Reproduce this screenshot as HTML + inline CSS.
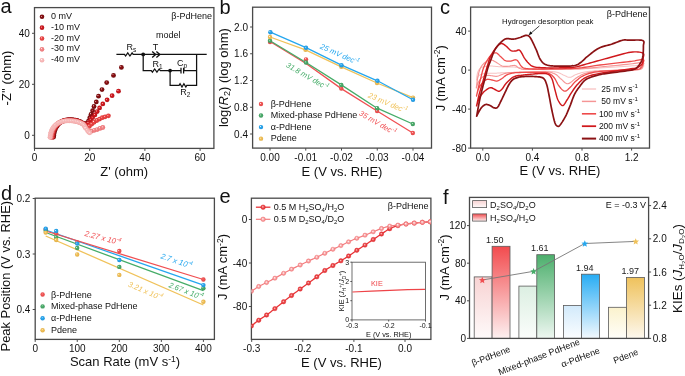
<!DOCTYPE html>
<html><head><meta charset="utf-8"><style>
html,body{margin:0;padding:0;background:#fff;}
svg{display:block;will-change:transform;}
</style></head><body>
<svg width="685" height="376" viewBox="0 0 685 376" font-family="&quot;Liberation Sans&quot;, sans-serif">
<defs><radialGradient id="ga0" cx="0.5" cy="0.5" r="0.55" fx="0.36" fy="0.34"><stop offset="0" stop-color="#fff" stop-opacity="0.9"/><stop offset="0.28" stop-color="#8e0f12"/><stop offset="1" stop-color="#6a0a0c"/></radialGradient><radialGradient id="ga1" cx="0.5" cy="0.5" r="0.55" fx="0.36" fy="0.34"><stop offset="0" stop-color="#fff" stop-opacity="0.9"/><stop offset="0.28" stop-color="#d71a20"/><stop offset="1" stop-color="#b0141a"/></radialGradient><radialGradient id="ga2" cx="0.5" cy="0.5" r="0.55" fx="0.36" fy="0.34"><stop offset="0" stop-color="#fff" stop-opacity="0.9"/><stop offset="0.28" stop-color="#ee4848"/><stop offset="1" stop-color="#d83535"/></radialGradient><radialGradient id="ga3" cx="0.5" cy="0.5" r="0.55" fx="0.36" fy="0.34"><stop offset="0" stop-color="#fff" stop-opacity="0.9"/><stop offset="0.28" stop-color="#f48a8c"/><stop offset="1" stop-color="#e87072"/></radialGradient><radialGradient id="ga4" cx="0.5" cy="0.5" r="0.55" fx="0.36" fy="0.34"><stop offset="0" stop-color="#fff" stop-opacity="0.9"/><stop offset="0.28" stop-color="#f9c2c2"/><stop offset="1" stop-color="#f2a8a8"/></radialGradient><radialGradient id="gr" cx="0.5" cy="0.5" r="0.55" fx="0.36" fy="0.34"><stop offset="0" stop-color="#fff" stop-opacity="0.9"/><stop offset="0.28" stop-color="#f25a5a"/><stop offset="1" stop-color="#e04444"/></radialGradient><radialGradient id="gg" cx="0.5" cy="0.5" r="0.55" fx="0.36" fy="0.34"><stop offset="0" stop-color="#fff" stop-opacity="0.9"/><stop offset="0.28" stop-color="#4fb06f"/><stop offset="1" stop-color="#3c965a"/></radialGradient><radialGradient id="gb" cx="0.5" cy="0.5" r="0.55" fx="0.36" fy="0.34"><stop offset="0" stop-color="#fff" stop-opacity="0.9"/><stop offset="0.28" stop-color="#2eaaf0"/><stop offset="1" stop-color="#1c90d8"/></radialGradient><radialGradient id="gy" cx="0.5" cy="0.5" r="0.55" fx="0.36" fy="0.34"><stop offset="0" stop-color="#fff" stop-opacity="0.9"/><stop offset="0.28" stop-color="#f2c35c"/><stop offset="1" stop-color="#e0ad45"/></radialGradient><linearGradient id="bRh" x1="0" y1="0" x2="0" y2="1"><stop offset="0" stop-color="#f24b4e"/><stop offset="1" stop-color="#fdf0f0"/></linearGradient><linearGradient id="bRd" x1="0" y1="0" x2="0" y2="1"><stop offset="0" stop-color="#f8d3d3"/><stop offset="1" stop-color="#fefafa"/></linearGradient><linearGradient id="bGh" x1="0" y1="0" x2="0" y2="1"><stop offset="0" stop-color="#4caf6c"/><stop offset="1" stop-color="#eef7f1"/></linearGradient><linearGradient id="bGd" x1="0" y1="0" x2="0" y2="1"><stop offset="0" stop-color="#dcefe2"/><stop offset="1" stop-color="#fbfdfb"/></linearGradient><linearGradient id="bBh" x1="0" y1="0" x2="0" y2="1"><stop offset="0" stop-color="#27acf4"/><stop offset="1" stop-color="#f3f9fe"/></linearGradient><linearGradient id="bBd" x1="0" y1="0" x2="0" y2="1"><stop offset="0" stop-color="#d2eafb"/><stop offset="1" stop-color="#fbfdff"/></linearGradient><linearGradient id="bYh" x1="0" y1="0" x2="0" y2="1"><stop offset="0" stop-color="#efc25c"/><stop offset="1" stop-color="#fdf8ee"/></linearGradient><linearGradient id="bYd" x1="0" y1="0" x2="0" y2="1"><stop offset="0" stop-color="#fbf2cd"/><stop offset="1" stop-color="#fffef9"/></linearGradient><radialGradient id="geh" cx="0.5" cy="0.5" r="0.55" fx="0.42" fy="0.4"><stop offset="0" stop-color="#fbd0d0"/><stop offset="0.45" stop-color="#ea4a4c"/><stop offset="1" stop-color="#d82a2d"/></radialGradient><radialGradient id="ged" cx="0.5" cy="0.5" r="0.55" fx="0.42" fy="0.4"><stop offset="0" stop-color="#fff"/><stop offset="0.45" stop-color="#f8a8a9"/><stop offset="1" stop-color="#f07a7c"/></radialGradient></defs>
<rect width="685" height="376" fill="#fff"/>
<text x="0.5" y="13.3" font-size="20" text-anchor="start" fill="#111" >a</text>
<rect x="34.5" y="7.6" width="179.40" height="140.80" fill="none" stroke="#4a4a4a" stroke-width="1.3"/>
<line x1="34.50" y1="148.4" x2="34.50" y2="150.9" stroke="#4a4a4a" stroke-width="1"/>
<text x="34.50" y="160.8" font-size="10" text-anchor="middle" fill="#111">0</text>
<line x1="89.70" y1="148.4" x2="89.70" y2="150.9" stroke="#4a4a4a" stroke-width="1"/>
<text x="89.70" y="160.8" font-size="10" text-anchor="middle" fill="#111">20</text>
<line x1="144.90" y1="148.4" x2="144.90" y2="150.9" stroke="#4a4a4a" stroke-width="1"/>
<text x="144.90" y="160.8" font-size="10" text-anchor="middle" fill="#111">40</text>
<line x1="200.10" y1="148.4" x2="200.10" y2="150.9" stroke="#4a4a4a" stroke-width="1"/>
<text x="200.10" y="160.8" font-size="10" text-anchor="middle" fill="#111">60</text>
<line x1="32.0" y1="135.30" x2="34.5" y2="135.30" stroke="#4a4a4a" stroke-width="1"/>
<text x="29.9" y="138.90" font-size="10" text-anchor="end" fill="#111">0</text>
<line x1="32.0" y1="84.30" x2="34.5" y2="84.30" stroke="#4a4a4a" stroke-width="1"/>
<text x="29.9" y="87.90" font-size="10" text-anchor="end" fill="#111">20</text>
<line x1="32.0" y1="33.30" x2="34.5" y2="33.30" stroke="#4a4a4a" stroke-width="1"/>
<text x="29.9" y="36.90" font-size="10" text-anchor="end" fill="#111">40</text>
<text transform="translate(11,78) rotate(-90)" font-size="13" text-anchor="middle" fill="#111">-Z'' (ohm)</text>
<text x="124.2" y="176.3" font-size="13" text-anchor="middle" fill="#111">Z' (ohm)</text>
<circle cx="42.00" cy="16.80" r="2.3" fill="url(#ga0)"/>
<text x="51" y="18.900000000000002" font-size="9" text-anchor="start" fill="#111" >0 mV</text>
<circle cx="42.00" cy="27.65" r="2.3" fill="url(#ga1)"/>
<text x="51" y="29.75" font-size="9" text-anchor="start" fill="#111" >-10 mV</text>
<circle cx="42.00" cy="38.50" r="2.3" fill="url(#ga2)"/>
<text x="51" y="40.6" font-size="9" text-anchor="start" fill="#111" >-20 mV</text>
<circle cx="42.00" cy="49.35" r="2.3" fill="url(#ga3)"/>
<text x="51" y="51.449999999999996" font-size="9" text-anchor="start" fill="#111" >-30 mV</text>
<circle cx="42.00" cy="60.20" r="2.3" fill="url(#ga4)"/>
<text x="51" y="62.300000000000004" font-size="9" text-anchor="start" fill="#111" >-40 mV</text>
<text x="212" y="18.7" font-size="9" text-anchor="end" fill="#111" >β-PdHene</text>
<g stroke="#111" stroke-width="1.25" fill="none">
<path d="M116.4,54.4 L124.5,54.4 L124.50,54.40 L125.59,56.00 L127.76,52.80 L129.94,56.00 L132.11,52.80 L133.20,54.40 L152,54.4"/>
<path d="M152.2,51.4 L155.6,54.4 L152.2,57.4 M156.4,51.4 L159.8,54.4 L156.4,57.4" stroke-width="1.4"/>
<path d="M152,54.4 L206.7,54.4"/>
<path d="M143.2,54.4 L143.2,70.6 L151.3,70.6 L151.30,70.60 L152.43,72.20 L154.68,69.00 L156.93,72.20 L159.18,69.00 L160.30,70.60 L181,70.6 M183.6,70.6 L196.6,70.6"/>
<path d="M181,67.8 L181,73.4 M183.6,67.8 L183.6,73.4"/>
<path d="M196.6,54.4 L196.6,85.4 L186.8,85.4 L186.80,85.40 L185.84,87.00 L183.91,83.80 L181.99,87.00 L180.06,83.80 L179.10,85.40 L170.1,85.4 L170.1,70.6"/>
</g>
<circle cx="143.2" cy="54.4" r="1.9" fill="#111"/>
<circle cx="170.1" cy="70.6" r="1.9" fill="#111"/>
<text x="168.2" y="38.3" font-size="9" text-anchor="middle" fill="#111" >model</text>
<text x="126.5" y="50" font-size="9" text-anchor="start" fill="#111" >R<tspan font-size="6.5" dy="1.8">s</tspan></text>
<text x="155.5" y="50" font-size="9" text-anchor="middle" fill="#111" >T</text>
<text x="152.5" y="67" font-size="9" text-anchor="start" fill="#111" >R<tspan font-size="6.5" dy="1.8">1</tspan></text>
<text x="177" y="66.3" font-size="9" text-anchor="start" fill="#111" >C<tspan font-size="6.5" dy="1.8">p</tspan></text>
<text x="180.2" y="95.4" font-size="9" text-anchor="start" fill="#111" >R<tspan font-size="6.5" dy="1.8">2</tspan></text>
<circle cx="53.60" cy="137.08" r="2.4" fill="url(#ga0)"/>
<circle cx="53.77" cy="135.39" r="2.4" fill="url(#ga0)"/>
<circle cx="53.98" cy="133.70" r="2.4" fill="url(#ga0)"/>
<circle cx="54.32" cy="132.04" r="2.4" fill="url(#ga0)"/>
<circle cx="54.80" cy="130.41" r="2.4" fill="url(#ga0)"/>
<circle cx="55.44" cy="128.83" r="2.4" fill="url(#ga0)"/>
<circle cx="56.25" cy="127.34" r="2.4" fill="url(#ga0)"/>
<circle cx="57.16" cy="125.90" r="2.4" fill="url(#ga0)"/>
<circle cx="58.17" cy="124.54" r="2.4" fill="url(#ga0)"/>
<circle cx="59.35" cy="123.32" r="2.4" fill="url(#ga0)"/>
<circle cx="60.68" cy="122.26" r="2.4" fill="url(#ga0)"/>
<circle cx="62.14" cy="121.38" r="2.4" fill="url(#ga0)"/>
<circle cx="63.69" cy="120.69" r="2.4" fill="url(#ga0)"/>
<circle cx="65.31" cy="120.18" r="2.4" fill="url(#ga0)"/>
<circle cx="66.97" cy="119.83" r="2.4" fill="url(#ga0)"/>
<circle cx="68.66" cy="119.65" r="2.4" fill="url(#ga0)"/>
<circle cx="70.36" cy="119.60" r="2.4" fill="url(#ga0)"/>
<circle cx="72.06" cy="119.65" r="2.4" fill="url(#ga0)"/>
<circle cx="73.75" cy="119.81" r="2.4" fill="url(#ga0)"/>
<circle cx="75.43" cy="120.08" r="2.4" fill="url(#ga0)"/>
<circle cx="77.08" cy="120.49" r="2.4" fill="url(#ga0)"/>
<circle cx="78.69" cy="121.04" r="2.4" fill="url(#ga0)"/>
<circle cx="80.24" cy="121.73" r="2.4" fill="url(#ga0)"/>
<circle cx="81.74" cy="122.53" r="2.4" fill="url(#ga0)"/>
<circle cx="83.20" cy="123.40" r="2.4" fill="url(#ga0)"/>
<circle cx="84.80" cy="123.95" r="2.4" fill="url(#ga0)"/>
<circle cx="87.20" cy="122.80" r="2.4" fill="url(#ga0)"/>
<circle cx="88.60" cy="121.00" r="2.4" fill="url(#ga0)"/>
<circle cx="89.80" cy="117.70" r="2.4" fill="url(#ga0)"/>
<circle cx="91.00" cy="114.40" r="2.4" fill="url(#ga0)"/>
<circle cx="92.60" cy="110.70" r="2.4" fill="url(#ga0)"/>
<circle cx="94.00" cy="106.50" r="2.4" fill="url(#ga0)"/>
<circle cx="96.30" cy="101.90" r="2.4" fill="url(#ga0)"/>
<circle cx="98.50" cy="96.20" r="2.4" fill="url(#ga0)"/>
<circle cx="102.00" cy="89.60" r="2.4" fill="url(#ga0)"/>
<circle cx="106.70" cy="82.60" r="2.4" fill="url(#ga0)"/>
<circle cx="113.50" cy="75.40" r="2.4" fill="url(#ga0)"/>
<circle cx="121.40" cy="67.40" r="2.4" fill="url(#ga0)"/>
<circle cx="52.70" cy="137.14" r="2.4" fill="url(#ga1)"/>
<circle cx="52.89" cy="135.45" r="2.4" fill="url(#ga1)"/>
<circle cx="53.11" cy="133.77" r="2.4" fill="url(#ga1)"/>
<circle cx="53.48" cy="132.11" r="2.4" fill="url(#ga1)"/>
<circle cx="53.98" cy="130.48" r="2.4" fill="url(#ga1)"/>
<circle cx="54.64" cy="128.92" r="2.4" fill="url(#ga1)"/>
<circle cx="55.47" cy="127.43" r="2.4" fill="url(#ga1)"/>
<circle cx="56.40" cy="126.01" r="2.4" fill="url(#ga1)"/>
<circle cx="57.46" cy="124.69" r="2.4" fill="url(#ga1)"/>
<circle cx="58.68" cy="123.50" r="2.4" fill="url(#ga1)"/>
<circle cx="60.04" cy="122.49" r="2.4" fill="url(#ga1)"/>
<circle cx="61.52" cy="121.65" r="2.4" fill="url(#ga1)"/>
<circle cx="63.09" cy="120.98" r="2.4" fill="url(#ga1)"/>
<circle cx="64.71" cy="120.49" r="2.4" fill="url(#ga1)"/>
<circle cx="66.38" cy="120.15" r="2.4" fill="url(#ga1)"/>
<circle cx="68.06" cy="119.96" r="2.4" fill="url(#ga1)"/>
<circle cx="69.76" cy="119.90" r="2.4" fill="url(#ga1)"/>
<circle cx="71.46" cy="119.94" r="2.4" fill="url(#ga1)"/>
<circle cx="73.16" cy="120.07" r="2.4" fill="url(#ga1)"/>
<circle cx="74.84" cy="120.30" r="2.4" fill="url(#ga1)"/>
<circle cx="76.50" cy="120.66" r="2.4" fill="url(#ga1)"/>
<circle cx="78.13" cy="121.15" r="2.4" fill="url(#ga1)"/>
<circle cx="79.71" cy="121.78" r="2.4" fill="url(#ga1)"/>
<circle cx="81.23" cy="122.53" r="2.4" fill="url(#ga1)"/>
<circle cx="82.69" cy="123.41" r="2.4" fill="url(#ga1)"/>
<circle cx="84.22" cy="124.15" r="2.4" fill="url(#ga1)"/>
<circle cx="85.81" cy="124.73" r="2.4" fill="url(#ga1)"/>
<circle cx="88.50" cy="123.20" r="2.4" fill="url(#ga1)"/>
<circle cx="90.70" cy="120.00" r="2.4" fill="url(#ga1)"/>
<circle cx="92.60" cy="117.70" r="2.4" fill="url(#ga1)"/>
<circle cx="94.90" cy="114.90" r="2.4" fill="url(#ga1)"/>
<circle cx="97.20" cy="111.60" r="2.4" fill="url(#ga1)"/>
<circle cx="99.60" cy="107.90" r="2.4" fill="url(#ga1)"/>
<circle cx="102.80" cy="103.90" r="2.4" fill="url(#ga1)"/>
<circle cx="107.10" cy="99.80" r="2.4" fill="url(#ga1)"/>
<circle cx="112.10" cy="95.70" r="2.4" fill="url(#ga1)"/>
<circle cx="118.50" cy="91.20" r="2.4" fill="url(#ga1)"/>
<circle cx="51.80" cy="137.20" r="2.4" fill="url(#ga2)"/>
<circle cx="52.00" cy="135.51" r="2.4" fill="url(#ga2)"/>
<circle cx="52.25" cy="133.83" r="2.4" fill="url(#ga2)"/>
<circle cx="52.64" cy="132.18" r="2.4" fill="url(#ga2)"/>
<circle cx="53.16" cy="130.56" r="2.4" fill="url(#ga2)"/>
<circle cx="53.85" cy="129.00" r="2.4" fill="url(#ga2)"/>
<circle cx="54.69" cy="127.53" r="2.4" fill="url(#ga2)"/>
<circle cx="55.66" cy="126.13" r="2.4" fill="url(#ga2)"/>
<circle cx="56.76" cy="124.84" r="2.4" fill="url(#ga2)"/>
<circle cx="58.02" cy="123.70" r="2.4" fill="url(#ga2)"/>
<circle cx="59.41" cy="122.72" r="2.4" fill="url(#ga2)"/>
<circle cx="60.90" cy="121.91" r="2.4" fill="url(#ga2)"/>
<circle cx="62.48" cy="121.28" r="2.4" fill="url(#ga2)"/>
<circle cx="64.11" cy="120.80" r="2.4" fill="url(#ga2)"/>
<circle cx="65.78" cy="120.46" r="2.4" fill="url(#ga2)"/>
<circle cx="67.46" cy="120.27" r="2.4" fill="url(#ga2)"/>
<circle cx="69.16" cy="120.20" r="2.4" fill="url(#ga2)"/>
<circle cx="70.86" cy="120.22" r="2.4" fill="url(#ga2)"/>
<circle cx="72.56" cy="120.33" r="2.4" fill="url(#ga2)"/>
<circle cx="74.25" cy="120.54" r="2.4" fill="url(#ga2)"/>
<circle cx="75.92" cy="120.85" r="2.4" fill="url(#ga2)"/>
<circle cx="77.56" cy="121.29" r="2.4" fill="url(#ga2)"/>
<circle cx="79.16" cy="121.86" r="2.4" fill="url(#ga2)"/>
<circle cx="80.71" cy="122.56" r="2.4" fill="url(#ga2)"/>
<circle cx="82.22" cy="123.34" r="2.4" fill="url(#ga2)"/>
<circle cx="83.64" cy="124.27" r="2.4" fill="url(#ga2)"/>
<circle cx="84.94" cy="125.36" r="2.4" fill="url(#ga2)"/>
<circle cx="89.50" cy="126.00" r="2.4" fill="url(#ga2)"/>
<circle cx="91.60" cy="124.20" r="2.4" fill="url(#ga2)"/>
<circle cx="94.00" cy="122.30" r="2.4" fill="url(#ga2)"/>
<circle cx="96.80" cy="120.50" r="2.4" fill="url(#ga2)"/>
<circle cx="99.60" cy="119.10" r="2.4" fill="url(#ga2)"/>
<circle cx="102.30" cy="117.70" r="2.4" fill="url(#ga2)"/>
<circle cx="105.10" cy="116.80" r="2.4" fill="url(#ga2)"/>
<circle cx="108.40" cy="115.80" r="2.4" fill="url(#ga2)"/>
<circle cx="50.90" cy="137.26" r="2.4" fill="url(#ga3)"/>
<circle cx="51.12" cy="135.57" r="2.4" fill="url(#ga3)"/>
<circle cx="51.40" cy="133.90" r="2.4" fill="url(#ga3)"/>
<circle cx="51.81" cy="132.25" r="2.4" fill="url(#ga3)"/>
<circle cx="52.35" cy="130.64" r="2.4" fill="url(#ga3)"/>
<circle cx="53.05" cy="129.09" r="2.4" fill="url(#ga3)"/>
<circle cx="53.92" cy="127.63" r="2.4" fill="url(#ga3)"/>
<circle cx="54.92" cy="126.26" r="2.4" fill="url(#ga3)"/>
<circle cx="56.07" cy="125.00" r="2.4" fill="url(#ga3)"/>
<circle cx="57.36" cy="123.90" r="2.4" fill="url(#ga3)"/>
<circle cx="58.77" cy="122.96" r="2.4" fill="url(#ga3)"/>
<circle cx="60.28" cy="122.18" r="2.4" fill="url(#ga3)"/>
<circle cx="61.87" cy="121.57" r="2.4" fill="url(#ga3)"/>
<circle cx="63.50" cy="121.10" r="2.4" fill="url(#ga3)"/>
<circle cx="65.17" cy="120.78" r="2.4" fill="url(#ga3)"/>
<circle cx="66.86" cy="120.58" r="2.4" fill="url(#ga3)"/>
<circle cx="68.56" cy="120.50" r="2.4" fill="url(#ga3)"/>
<circle cx="70.26" cy="120.51" r="2.4" fill="url(#ga3)"/>
<circle cx="71.95" cy="120.60" r="2.4" fill="url(#ga3)"/>
<circle cx="73.65" cy="120.78" r="2.4" fill="url(#ga3)"/>
<circle cx="75.32" cy="121.06" r="2.4" fill="url(#ga3)"/>
<circle cx="76.98" cy="121.45" r="2.4" fill="url(#ga3)"/>
<circle cx="78.60" cy="121.96" r="2.4" fill="url(#ga3)"/>
<circle cx="80.17" cy="122.61" r="2.4" fill="url(#ga3)"/>
<circle cx="81.71" cy="123.32" r="2.4" fill="url(#ga3)"/>
<circle cx="83.16" cy="124.20" r="2.4" fill="url(#ga3)"/>
<circle cx="84.31" cy="125.44" r="2.4" fill="url(#ga3)"/>
<circle cx="85.31" cy="126.82" r="2.4" fill="url(#ga3)"/>
<circle cx="88.00" cy="129.60" r="2.4" fill="url(#ga3)"/>
<circle cx="89.30" cy="130.70" r="2.4" fill="url(#ga3)"/>
<circle cx="91.60" cy="131.20" r="2.4" fill="url(#ga3)"/>
<circle cx="94.40" cy="130.30" r="2.4" fill="url(#ga3)"/>
<circle cx="97.20" cy="129.60" r="2.4" fill="url(#ga3)"/>
<circle cx="100.00" cy="128.40" r="2.4" fill="url(#ga3)"/>
<circle cx="102.80" cy="127.50" r="2.4" fill="url(#ga3)"/>
<circle cx="50.00" cy="137.32" r="2.4" fill="url(#ga4)"/>
<circle cx="50.24" cy="135.64" r="2.4" fill="url(#ga4)"/>
<circle cx="50.55" cy="133.97" r="2.4" fill="url(#ga4)"/>
<circle cx="50.98" cy="132.32" r="2.4" fill="url(#ga4)"/>
<circle cx="51.53" cy="130.72" r="2.4" fill="url(#ga4)"/>
<circle cx="52.26" cy="129.18" r="2.4" fill="url(#ga4)"/>
<circle cx="53.15" cy="127.73" r="2.4" fill="url(#ga4)"/>
<circle cx="54.19" cy="126.39" r="2.4" fill="url(#ga4)"/>
<circle cx="55.38" cy="125.17" r="2.4" fill="url(#ga4)"/>
<circle cx="56.70" cy="124.10" r="2.4" fill="url(#ga4)"/>
<circle cx="58.14" cy="123.20" r="2.4" fill="url(#ga4)"/>
<circle cx="59.66" cy="122.45" r="2.4" fill="url(#ga4)"/>
<circle cx="61.26" cy="121.86" r="2.4" fill="url(#ga4)"/>
<circle cx="62.90" cy="121.41" r="2.4" fill="url(#ga4)"/>
<circle cx="64.56" cy="121.09" r="2.4" fill="url(#ga4)"/>
<circle cx="66.25" cy="120.89" r="2.4" fill="url(#ga4)"/>
<circle cx="67.95" cy="120.81" r="2.4" fill="url(#ga4)"/>
<circle cx="69.65" cy="120.81" r="2.4" fill="url(#ga4)"/>
<circle cx="71.35" cy="120.88" r="2.4" fill="url(#ga4)"/>
<circle cx="73.04" cy="121.03" r="2.4" fill="url(#ga4)"/>
<circle cx="74.72" cy="121.28" r="2.4" fill="url(#ga4)"/>
<circle cx="76.39" cy="121.62" r="2.4" fill="url(#ga4)"/>
<circle cx="78.02" cy="122.08" r="2.4" fill="url(#ga4)"/>
<circle cx="79.62" cy="122.68" r="2.4" fill="url(#ga4)"/>
<circle cx="81.17" cy="123.37" r="2.4" fill="url(#ga4)"/>
<circle cx="82.70" cy="124.11" r="2.4" fill="url(#ga4)"/>
<circle cx="83.88" cy="125.31" r="2.4" fill="url(#ga4)"/>
<circle cx="84.76" cy="126.77" r="2.4" fill="url(#ga4)"/>
<circle cx="85.57" cy="128.26" r="2.4" fill="url(#ga4)"/>
<circle cx="87.40" cy="130.50" r="2.4" fill="url(#ga4)"/>
<circle cx="88.60" cy="132.00" r="2.4" fill="url(#ga4)"/>
<circle cx="89.70" cy="132.80" r="2.4" fill="url(#ga4)"/>
<text x="219.5" y="13.8" font-size="20" text-anchor="start" fill="#111" >b</text>
<rect x="252.6" y="7.2" width="178.90" height="140.90" fill="none" stroke="#4a4a4a" stroke-width="1.3"/>
<line x1="270.00" y1="148.1" x2="270.00" y2="150.6" stroke="#4a4a4a" stroke-width="1"/>
<text x="270.00" y="160.8" font-size="10" text-anchor="middle" fill="#111">0.00</text>
<line x1="305.75" y1="148.1" x2="305.75" y2="150.6" stroke="#4a4a4a" stroke-width="1"/>
<text x="305.75" y="160.8" font-size="10" text-anchor="middle" fill="#111">-0.01</text>
<line x1="341.50" y1="148.1" x2="341.50" y2="150.6" stroke="#4a4a4a" stroke-width="1"/>
<text x="341.50" y="160.8" font-size="10" text-anchor="middle" fill="#111">-0.02</text>
<line x1="377.25" y1="148.1" x2="377.25" y2="150.6" stroke="#4a4a4a" stroke-width="1"/>
<text x="377.25" y="160.8" font-size="10" text-anchor="middle" fill="#111">-0.03</text>
<line x1="413.00" y1="148.1" x2="413.00" y2="150.6" stroke="#4a4a4a" stroke-width="1"/>
<text x="413.00" y="160.8" font-size="10" text-anchor="middle" fill="#111">-0.04</text>
<line x1="250.1" y1="27.00" x2="252.6" y2="27.00" stroke="#4a4a4a" stroke-width="1"/>
<text x="248" y="30.60" font-size="10" text-anchor="end" fill="#111">2.0</text>
<line x1="250.1" y1="53.75" x2="252.6" y2="53.75" stroke="#4a4a4a" stroke-width="1"/>
<text x="248" y="57.35" font-size="10" text-anchor="end" fill="#111">1.6</text>
<line x1="250.1" y1="80.50" x2="252.6" y2="80.50" stroke="#4a4a4a" stroke-width="1"/>
<text x="248" y="84.10" font-size="10" text-anchor="end" fill="#111">1.2</text>
<line x1="250.1" y1="107.25" x2="252.6" y2="107.25" stroke="#4a4a4a" stroke-width="1"/>
<text x="248" y="110.85" font-size="10" text-anchor="end" fill="#111">0.8</text>
<line x1="250.1" y1="134.00" x2="252.6" y2="134.00" stroke="#4a4a4a" stroke-width="1"/>
<text x="248" y="137.60" font-size="10" text-anchor="end" fill="#111">0.4</text>
<text transform="translate(227.7,77.6) rotate(-90)" font-size="13" text-anchor="middle" fill="#111">log(<tspan font-style="italic">R</tspan><tspan font-size="9" dy="2.5">2</tspan><tspan dy="-2.5">) (log ohm)</tspan></text>
<text x="342" y="176" font-size="13" text-anchor="middle" fill="#111">E (V vs. RHE)</text>
<path d="M270.00,41.50 L306.00,63.50 L341.30,88.60 L377.10,111.00 L412.80,133.00" fill="none" stroke="#f04f52" stroke-width="1.3" stroke-linejoin="round" stroke-linecap="round" />
<path d="M270.00,40.70 L306.00,62.50 L341.30,84.90 L377.10,108.20 L412.80,124.00" fill="none" stroke="#45ac68" stroke-width="1.3" stroke-linejoin="round" stroke-linecap="round" />
<path d="M270.00,37.00 L305.50,49.80 L341.30,66.80 L377.00,83.00 L413.00,97.60" fill="none" stroke="#f0c25a" stroke-width="1.3" stroke-linejoin="round" stroke-linecap="round" />
<path d="M270.40,32.20 L306.00,47.70 L341.50,65.20 L377.40,80.80 L413.00,99.80" fill="none" stroke="#25a7ef" stroke-width="1.3" stroke-linejoin="round" stroke-linecap="round" />
<circle cx="270.00" cy="42.00" r="2.2" fill="url(#gr)"/>
<circle cx="306.00" cy="59.40" r="2.2" fill="url(#gr)"/>
<circle cx="341.30" cy="88.50" r="2.2" fill="url(#gr)"/>
<circle cx="377.10" cy="111.00" r="2.2" fill="url(#gr)"/>
<circle cx="412.80" cy="133.00" r="2.2" fill="url(#gr)"/>
<circle cx="270.00" cy="40.70" r="2.2" fill="url(#gg)"/>
<circle cx="306.00" cy="62.50" r="2.2" fill="url(#gg)"/>
<circle cx="341.30" cy="84.90" r="2.2" fill="url(#gg)"/>
<circle cx="377.10" cy="108.20" r="2.2" fill="url(#gg)"/>
<circle cx="412.80" cy="124.00" r="2.2" fill="url(#gg)"/>
<circle cx="270.00" cy="37.00" r="2.2" fill="url(#gy)"/>
<circle cx="305.50" cy="49.80" r="2.2" fill="url(#gy)"/>
<circle cx="341.30" cy="66.80" r="2.2" fill="url(#gy)"/>
<circle cx="377.00" cy="83.00" r="2.2" fill="url(#gy)"/>
<circle cx="413.00" cy="97.60" r="2.2" fill="url(#gy)"/>
<circle cx="270.40" cy="32.20" r="2.2" fill="url(#gb)"/>
<circle cx="306.00" cy="47.70" r="2.2" fill="url(#gb)"/>
<circle cx="341.50" cy="65.20" r="2.2" fill="url(#gb)"/>
<circle cx="377.40" cy="80.80" r="2.2" fill="url(#gb)"/>
<circle cx="413.00" cy="99.80" r="2.2" fill="url(#gb)"/>
<circle cx="261.00" cy="104.00" r="2.2" fill="url(#gr)"/>
<text x="270.7" y="106.6" font-size="9" text-anchor="start" fill="#111" >β-PdHene</text>
<circle cx="261.00" cy="115.55" r="2.2" fill="url(#gg)"/>
<text x="270.7" y="118.14999999999999" font-size="9" text-anchor="start" fill="#111" >Mixed-phase PdHene</text>
<circle cx="261.00" cy="127.10" r="2.2" fill="url(#gb)"/>
<text x="270.7" y="129.7" font-size="9" text-anchor="start" fill="#111" >α-PdHene</text>
<circle cx="261.00" cy="138.65" r="2.2" fill="url(#gy)"/>
<text x="270.7" y="141.25" font-size="9" text-anchor="start" fill="#111" >Pdene</text>
<text transform="translate(319.6,48.2) rotate(24)" font-size="7.7" font-style="italic" fill="#25a7ef" text-anchor="start">25 mV dec<tspan font-size="5.5" dy="-3.5">-1</tspan></text>
<text transform="translate(285.6,66.6) rotate(30)" font-size="7.6" font-style="italic" fill="#45ac68" text-anchor="start">31.8 mV dec<tspan font-size="5.5" dy="-3.5">-1</tspan></text>
<text transform="translate(367.5,97.2) rotate(23)" font-size="7.7" font-style="italic" fill="#f0c25a" text-anchor="start">23 mV dec<tspan font-size="5.5" dy="-3.5">-1</tspan></text>
<text transform="translate(358.6,114.8) rotate(30)" font-size="7.6" font-style="italic" fill="#f04f52" text-anchor="start">35 mV dec<tspan font-size="5.5" dy="-3.5">-1</tspan></text>
<text x="440" y="13.5" font-size="20" text-anchor="start" fill="#111" >c</text>
<rect x="470.6" y="7.1" width="178.90" height="141.00" fill="none" stroke="#4a4a4a" stroke-width="1.3"/>
<line x1="482.80" y1="148.1" x2="482.80" y2="150.6" stroke="#4a4a4a" stroke-width="1"/>
<text x="482.80" y="161" font-size="10" text-anchor="middle" fill="#111">0.0</text>
<line x1="532.40" y1="148.1" x2="532.40" y2="150.6" stroke="#4a4a4a" stroke-width="1"/>
<text x="532.40" y="161" font-size="10" text-anchor="middle" fill="#111">0.4</text>
<line x1="582.00" y1="148.1" x2="582.00" y2="150.6" stroke="#4a4a4a" stroke-width="1"/>
<text x="582.00" y="161" font-size="10" text-anchor="middle" fill="#111">0.8</text>
<line x1="631.60" y1="148.1" x2="631.60" y2="150.6" stroke="#4a4a4a" stroke-width="1"/>
<text x="631.60" y="161" font-size="10" text-anchor="middle" fill="#111">1.2</text>
<line x1="468.1" y1="31.10" x2="470.6" y2="31.10" stroke="#4a4a4a" stroke-width="1"/>
<text x="466.5" y="34.70" font-size="10" text-anchor="end" fill="#111">40</text>
<line x1="468.1" y1="70.10" x2="470.6" y2="70.10" stroke="#4a4a4a" stroke-width="1"/>
<text x="466.5" y="73.70" font-size="10" text-anchor="end" fill="#111">0</text>
<line x1="468.1" y1="109.10" x2="470.6" y2="109.10" stroke="#4a4a4a" stroke-width="1"/>
<text x="466.5" y="112.70" font-size="10" text-anchor="end" fill="#111">-40</text>
<line x1="468.1" y1="148.10" x2="470.6" y2="148.10" stroke="#4a4a4a" stroke-width="1"/>
<text x="466.5" y="151.70" font-size="10" text-anchor="end" fill="#111">-80</text>
<text transform="translate(444.6,78.3) rotate(-90)" font-size="13" text-anchor="middle" fill="#111">J (mA cm<tspan font-size="8.5" dy="-4.5">-2</tspan><tspan dy="4.5">)</tspan></text>
<text x="560" y="174.7" font-size="13" text-anchor="middle" fill="#111">E (V vs. RHE)</text>
<path d="M476.50,80.00 L476.57,79.44 L476.64,78.68 L476.74,77.78 L476.84,76.78 L476.97,75.75 L477.12,74.74 L477.30,73.80 L477.50,73.00 L477.73,72.30 L477.98,71.63 L478.26,71.01 L478.56,70.42 L478.89,69.87 L479.23,69.37 L479.61,68.91 L480.00,68.50 L480.41,68.15 L480.85,67.86 L481.30,67.62 L481.78,67.42 L482.29,67.25 L482.82,67.10 L483.39,66.95 L484.00,66.80 L484.63,66.65 L485.27,66.50 L485.93,66.36 L486.62,66.24 L487.37,66.14 L488.17,66.07 L489.04,66.02 L490.00,66.00 L491.06,66.03 L492.22,66.10 L493.46,66.21 L494.75,66.34 L496.07,66.47 L497.41,66.60 L498.72,66.72 L500.00,66.80 L501.26,66.85 L502.55,66.89 L503.84,66.91 L505.12,66.93 L506.40,66.94 L507.64,66.96 L508.85,66.97 L510.00,67.00 L511.10,67.03 L512.16,67.05 L513.19,67.07 L514.19,67.09 L515.16,67.12 L516.12,67.16 L517.06,67.22 L518.00,67.30 L518.87,67.41 L519.63,67.55 L520.35,67.71 L521.06,67.87 L521.83,68.05 L522.71,68.21 L523.75,68.37 L525.00,68.50 L526.36,68.62 L527.72,68.73 L529.16,68.84 L530.75,68.94 L532.56,69.03 L534.66,69.10 L537.11,69.16 L540.00,69.20 L543.49,69.22 L547.58,69.23 L552.10,69.23 L556.88,69.21 L561.73,69.17 L566.48,69.13 L570.97,69.07 L575.00,69.00 L578.57,68.92 L581.84,68.83 L584.89,68.73 L587.81,68.61 L590.70,68.48 L593.63,68.34 L596.70,68.18 L600.00,68.00 L603.63,67.79 L607.55,67.54 L611.64,67.27 L615.77,66.99 L619.80,66.71 L623.60,66.44 L627.04,66.20 L630.00,66.00 L632.50,65.82 L634.68,65.65 L636.57,65.49 L638.21,65.35 L639.61,65.24 L640.80,65.17 L641.82,65.16 L642.70,65.20 L643.35,65.31 L643.72,65.50 L643.87,65.73 L643.83,66.01 L643.67,66.30 L643.45,66.61 L643.21,66.92 L643.00,67.20 L642.83,67.48 L642.65,67.79 L642.42,68.11 L642.14,68.43 L641.78,68.74 L641.32,69.03 L640.73,69.29 L640.00,69.50 L639.22,69.67 L638.46,69.79 L637.64,69.89 L636.69,69.97 L635.52,70.03 L634.07,70.08 L632.25,70.14 L630.00,70.20 L627.10,70.26 L623.55,70.30 L619.56,70.33 L615.31,70.36 L611.03,70.39 L606.91,70.44 L603.17,70.50 L600.00,70.60 L597.37,70.72 L595.05,70.85 L593.01,71.00 L591.19,71.17 L589.53,71.35 L587.98,71.55 L586.49,71.77 L585.00,72.00 L583.57,72.26 L582.26,72.54 L581.05,72.84 L579.94,73.16 L578.89,73.49 L577.90,73.83 L576.94,74.17 L576.00,74.50 L575.11,74.87 L574.29,75.29 L573.53,75.74 L572.81,76.18 L572.12,76.59 L571.43,76.93 L570.73,77.18 L570.00,77.30 L569.26,77.29 L568.52,77.16 L567.79,76.95 L567.06,76.66 L566.32,76.33 L565.57,75.98 L564.80,75.63 L564.00,75.30 L563.21,74.96 L562.44,74.57 L561.67,74.16 L560.88,73.74 L560.04,73.32 L559.12,72.93 L558.12,72.59 L557.00,72.30 L555.83,72.07 L554.66,71.86 L553.44,71.69 L552.12,71.55 L550.67,71.44 L549.03,71.36 L547.16,71.32 L545.00,71.30 L542.43,71.33 L539.43,71.42 L536.14,71.55 L532.69,71.71 L529.21,71.88 L525.85,72.05 L522.74,72.19 L520.00,72.30 L517.61,72.38 L515.43,72.44 L513.42,72.49 L511.56,72.53 L509.82,72.57 L508.16,72.61 L506.57,72.65 L505.00,72.70 L503.51,72.76 L502.15,72.82 L500.89,72.89 L499.70,72.96 L498.54,73.02 L497.40,73.09 L496.23,73.15 L495.00,73.20 L493.70,73.24 L492.36,73.25 L491.00,73.25 L489.64,73.26 L488.31,73.27 L487.05,73.31 L485.87,73.38 L484.80,73.50 L483.84,73.65 L482.96,73.82 L482.16,74.02 L481.42,74.24 L480.74,74.49 L480.11,74.78 L479.54,75.12 L479.00,75.50 L478.51,75.97 L478.08,76.55 L477.71,77.20 L477.39,77.88 L477.11,78.53 L476.87,79.13 L476.67,79.64 L476.50,80.00" fill="none" stroke="#f8c4c4" stroke-width="1.05" stroke-linejoin="round" stroke-linecap="round" />
<path d="M476.30,88.00 L476.39,87.30 L476.50,86.36 L476.64,85.24 L476.79,84.00 L476.95,82.70 L477.13,81.39 L477.31,80.14 L477.50,79.00 L477.69,77.94 L477.89,76.87 L478.09,75.82 L478.31,74.78 L478.53,73.77 L478.77,72.80 L479.03,71.87 L479.30,71.00 L479.58,70.18 L479.87,69.41 L480.17,68.69 L480.48,68.00 L480.82,67.34 L481.18,66.71 L481.57,66.10 L482.00,65.50 L482.48,64.91 L483.00,64.34 L483.55,63.78 L484.13,63.26 L484.73,62.76 L485.33,62.30 L485.92,61.87 L486.50,61.50 L487.06,61.16 L487.62,60.83 L488.18,60.54 L488.74,60.29 L489.31,60.09 L489.89,59.95 L490.49,59.88 L491.10,59.90 L491.73,60.02 L492.38,60.23 L493.05,60.53 L493.73,60.88 L494.41,61.27 L495.10,61.69 L495.80,62.10 L496.50,62.50 L497.21,62.92 L497.92,63.39 L498.65,63.89 L499.38,64.39 L500.11,64.88 L500.85,65.33 L501.58,65.71 L502.30,66.00 L503.01,66.20 L503.70,66.33 L504.39,66.40 L505.08,66.42 L505.77,66.41 L506.49,66.38 L507.23,66.34 L508.00,66.30 L508.83,66.23 L509.71,66.09 L510.62,65.91 L511.54,65.73 L512.46,65.57 L513.36,65.46 L514.21,65.43 L515.00,65.50 L515.69,65.71 L516.27,66.03 L516.80,66.43 L517.31,66.89 L517.85,67.35 L518.45,67.80 L519.15,68.19 L520.00,68.50 L520.77,68.73 L521.33,68.93 L521.85,69.09 L522.50,69.22 L523.47,69.32 L524.92,69.40 L527.04,69.46 L530.00,69.50 L534.09,69.52 L539.26,69.52 L545.19,69.49 L551.56,69.44 L558.05,69.36 L564.34,69.27 L570.09,69.14 L575.00,69.00 L579.05,68.83 L582.54,68.63 L585.62,68.40 L588.44,68.16 L591.14,67.89 L593.87,67.61 L596.77,67.31 L600.00,67.00 L603.63,66.66 L607.55,66.29 L611.64,65.88 L615.77,65.47 L619.80,65.06 L623.60,64.67 L627.04,64.31 L630.00,64.00 L632.50,63.71 L634.68,63.41 L636.57,63.13 L638.21,62.88 L639.61,62.67 L640.80,62.52 L641.82,62.46 L642.70,62.50 L643.35,62.66 L643.71,62.92 L643.84,63.27 L643.80,63.69 L643.64,64.14 L643.41,64.61 L643.18,65.07 L643.00,65.50 L642.88,65.93 L642.76,66.40 L642.62,66.89 L642.42,67.38 L642.15,67.85 L641.75,68.29 L641.21,68.68 L640.50,69.00 L639.70,69.24 L638.89,69.43 L638.01,69.56 L636.97,69.66 L635.72,69.73 L634.18,69.81 L632.30,69.89 L630.00,70.00 L627.07,70.12 L623.50,70.22 L619.48,70.32 L615.22,70.42 L610.94,70.54 L606.83,70.67 L603.12,70.82 L600.00,71.00 L597.45,71.20 L595.26,71.42 L593.36,71.64 L591.69,71.89 L590.18,72.17 L588.77,72.47 L587.40,72.82 L586.00,73.20 L584.64,73.62 L583.40,74.08 L582.26,74.58 L581.19,75.10 L580.16,75.66 L579.14,76.24 L578.10,76.86 L577.00,77.50 L575.85,78.26 L574.68,79.17 L573.50,80.16 L572.32,81.16 L571.16,82.09 L570.02,82.87 L568.93,83.43 L567.90,83.70 L566.93,83.64 L566.00,83.30 L565.11,82.75 L564.26,82.05 L563.42,81.26 L562.61,80.45 L561.80,79.68 L561.00,79.00 L560.23,78.37 L559.53,77.71 L558.86,77.02 L558.19,76.34 L557.50,75.68 L556.76,75.06 L555.94,74.49 L555.00,74.00 L554.04,73.57 L553.13,73.19 L552.20,72.85 L551.19,72.56 L550.02,72.30 L548.65,72.09 L547.00,71.93 L545.00,71.80 L542.50,71.73 L539.50,71.74 L536.15,71.79 L532.62,71.88 L529.08,71.99 L525.69,72.11 L522.61,72.22 L520.00,72.30 L517.84,72.35 L515.95,72.40 L514.28,72.43 L512.81,72.47 L511.49,72.52 L510.27,72.59 L509.12,72.68 L508.00,72.80 L506.96,72.95 L506.05,73.14 L505.27,73.35 L504.56,73.57 L503.91,73.80 L503.29,74.04 L502.66,74.27 L502.00,74.50 L501.33,74.74 L500.68,75.00 L500.05,75.27 L499.44,75.54 L498.83,75.79 L498.23,76.01 L497.62,76.18 L497.00,76.30 L496.38,76.35 L495.76,76.33 L495.14,76.28 L494.53,76.19 L493.90,76.08 L493.28,75.97 L492.64,75.87 L492.00,75.80 L491.34,75.73 L490.66,75.63 L489.97,75.53 L489.27,75.44 L488.58,75.36 L487.90,75.32 L487.24,75.33 L486.60,75.40 L485.98,75.53 L485.37,75.69 L484.77,75.90 L484.18,76.14 L483.61,76.43 L483.05,76.75 L482.52,77.11 L482.00,77.50 L481.50,77.94 L481.02,78.42 L480.55,78.95 L480.10,79.51 L479.67,80.10 L479.26,80.71 L478.87,81.35 L478.50,82.00 L478.15,82.72 L477.81,83.54 L477.48,84.40 L477.18,85.28 L476.91,86.12 L476.66,86.89 L476.46,87.53 L476.30,88.00" fill="none" stroke="#f59595" stroke-width="1.15" stroke-linejoin="round" stroke-linecap="round" />
<path d="M476.50,96.00 L476.65,95.31 L476.85,94.38 L477.09,93.28 L477.36,92.06 L477.64,90.77 L477.93,89.46 L478.22,88.19 L478.50,87.00 L478.77,85.87 L479.06,84.74 L479.34,83.60 L479.64,82.47 L479.93,81.34 L480.23,80.21 L480.52,79.10 L480.80,78.00 L481.07,76.90 L481.34,75.80 L481.60,74.71 L481.86,73.62 L482.12,72.56 L482.40,71.51 L482.69,70.49 L483.00,69.50 L483.33,68.55 L483.66,67.64 L484.00,66.76 L484.35,65.90 L484.72,65.05 L485.12,64.21 L485.54,63.36 L486.00,62.50 L486.49,61.60 L487.02,60.67 L487.58,59.72 L488.16,58.79 L488.75,57.88 L489.36,57.03 L489.98,56.27 L490.60,55.60 L491.23,55.01 L491.89,54.46 L492.57,53.96 L493.25,53.54 L493.93,53.19 L494.61,52.95 L495.27,52.81 L495.90,52.80 L496.51,52.95 L497.09,53.26 L497.66,53.69 L498.22,54.21 L498.78,54.79 L499.34,55.39 L499.91,55.97 L500.50,56.50 L501.10,57.03 L501.71,57.61 L502.32,58.21 L502.94,58.81 L503.57,59.39 L504.21,59.91 L504.85,60.36 L505.50,60.70 L506.16,60.93 L506.84,61.08 L507.52,61.16 L508.21,61.18 L508.90,61.15 L509.60,61.11 L510.30,61.05 L511.00,61.00 L511.71,60.89 L512.43,60.67 L513.17,60.40 L513.90,60.13 L514.63,59.90 L515.34,59.77 L516.03,59.78 L516.70,60.00 L517.34,60.47 L517.95,61.16 L518.54,62.01 L519.12,62.95 L519.69,63.92 L520.26,64.84 L520.82,65.66 L521.40,66.30 L521.92,66.78 L522.34,67.18 L522.72,67.50 L523.12,67.76 L523.59,67.98 L524.19,68.17 L524.98,68.33 L526.00,68.50 L527.16,68.65 L528.35,68.77 L529.64,68.86 L531.10,68.93 L532.80,68.98 L534.80,69.00 L537.18,69.01 L540.00,69.00 L543.44,68.99 L547.51,68.97 L552.03,68.94 L556.81,68.89 L561.68,68.81 L566.46,68.69 L570.96,68.52 L575.00,68.30 L578.57,68.01 L581.84,67.66 L584.89,67.26 L587.81,66.82 L590.70,66.37 L593.63,65.90 L596.70,65.44 L600.00,65.00 L603.63,64.56 L607.55,64.10 L611.64,63.64 L615.77,63.17 L619.80,62.71 L623.60,62.27 L627.04,61.87 L630.00,61.50 L632.50,61.14 L634.68,60.77 L636.57,60.40 L638.20,60.06 L639.60,59.78 L640.80,59.58 L641.82,59.48 L642.70,59.50 L643.36,59.67 L643.72,59.96 L643.86,60.37 L643.83,60.84 L643.67,61.37 L643.46,61.93 L643.25,62.48 L643.10,63.00 L642.98,63.53 L642.84,64.11 L642.67,64.72 L642.45,65.34 L642.18,65.95 L641.86,66.53 L641.47,67.05 L641.00,67.50 L640.63,67.87 L640.45,68.18 L640.31,68.43 L640.06,68.66 L639.55,68.86 L638.63,69.06 L637.16,69.27 L635.00,69.50 L631.88,69.74 L627.82,69.96 L623.12,70.18 L618.06,70.41 L612.93,70.64 L608.02,70.89 L603.62,71.18 L600.00,71.50 L597.13,71.85 L594.70,72.21 L592.65,72.59 L590.88,73.00 L589.31,73.44 L587.86,73.91 L586.45,74.43 L585.00,75.00 L583.57,75.63 L582.26,76.31 L581.05,77.04 L579.94,77.81 L578.89,78.60 L577.90,79.41 L576.94,80.21 L576.00,81.00 L575.10,81.81 L574.27,82.66 L573.50,83.52 L572.77,84.39 L572.07,85.25 L571.38,86.06 L570.70,86.82 L570.00,87.50 L569.31,88.16 L568.64,88.83 L567.98,89.48 L567.33,90.08 L566.69,90.59 L566.04,90.97 L565.38,91.18 L564.70,91.20 L564.00,91.00 L563.29,90.60 L562.56,90.05 L561.83,89.36 L561.10,88.58 L560.39,87.74 L559.68,86.87 L559.00,86.00 L558.35,85.07 L557.72,84.01 L557.12,82.88 L556.52,81.71 L555.92,80.54 L555.30,79.42 L554.67,78.39 L554.00,77.50 L553.31,76.72 L552.62,76.00 L551.91,75.35 L551.19,74.76 L550.44,74.23 L549.66,73.76 L548.85,73.35 L548.00,73.00 L547.18,72.72 L546.42,72.54 L545.67,72.42 L544.88,72.36 L543.97,72.33 L542.89,72.32 L541.59,72.32 L540.00,72.30 L537.98,72.28 L535.52,72.28 L532.76,72.30 L529.88,72.33 L527.00,72.37 L524.30,72.41 L521.91,72.46 L520.00,72.50 L518.59,72.53 L517.54,72.55 L516.77,72.57 L516.19,72.59 L515.71,72.63 L515.24,72.69 L514.70,72.78 L514.00,72.90 L513.16,73.05 L512.27,73.23 L511.36,73.42 L510.44,73.64 L509.52,73.89 L508.63,74.16 L507.79,74.47 L507.00,74.80 L506.28,75.18 L505.61,75.63 L504.98,76.11 L504.38,76.61 L503.79,77.12 L503.20,77.62 L502.61,78.08 L502.00,78.50 L501.38,78.89 L500.75,79.29 L500.12,79.68 L499.50,80.04 L498.88,80.37 L498.25,80.65 L497.62,80.86 L497.00,81.00 L496.38,81.04 L495.76,80.98 L495.14,80.86 L494.53,80.69 L493.90,80.49 L493.28,80.30 L492.64,80.12 L492.00,80.00 L491.34,79.88 L490.67,79.72 L489.99,79.56 L489.31,79.41 L488.62,79.30 L487.94,79.26 L487.26,79.32 L486.60,79.50 L485.93,79.82 L485.25,80.26 L484.57,80.80 L483.90,81.41 L483.25,82.06 L482.62,82.72 L482.03,83.38 L481.50,84.00 L481.02,84.59 L480.58,85.17 L480.18,85.75 L479.81,86.34 L479.46,86.96 L479.13,87.60 L478.81,88.28 L478.50,89.00 L478.19,89.83 L477.88,90.77 L477.59,91.79 L477.31,92.81 L477.06,93.80 L476.84,94.70 L476.65,95.45 L476.50,96.00" fill="none" stroke="#ee4a4a" stroke-width="1.3" stroke-linejoin="round" stroke-linecap="round" />
<path d="M476.60,105.80 L476.78,104.97 L477.01,103.86 L477.29,102.55 L477.60,101.09 L477.94,99.54 L478.29,97.97 L478.65,96.43 L479.00,95.00 L479.36,93.63 L479.75,92.24 L480.16,90.85 L480.57,89.45 L480.99,88.06 L481.41,86.68 L481.81,85.33 L482.20,84.00 L482.57,82.70 L482.92,81.43 L483.27,80.18 L483.61,78.94 L483.95,77.71 L484.30,76.48 L484.64,75.24 L485.00,74.00 L485.37,72.73 L485.75,71.44 L486.13,70.14 L486.52,68.84 L486.90,67.57 L487.28,66.32 L487.65,65.13 L488.00,64.00 L488.33,62.93 L488.64,61.91 L488.93,60.94 L489.22,60.00 L489.51,59.09 L489.82,58.21 L490.14,57.35 L490.50,56.50 L490.89,55.67 L491.30,54.86 L491.74,54.07 L492.19,53.31 L492.64,52.57 L493.10,51.86 L493.56,51.17 L494.00,50.50 L494.43,49.85 L494.86,49.22 L495.29,48.61 L495.72,48.03 L496.15,47.48 L496.59,46.95 L497.04,46.46 L497.50,46.00 L497.97,45.56 L498.45,45.12 L498.94,44.70 L499.44,44.31 L499.94,43.98 L500.45,43.73 L500.97,43.56 L501.50,43.50 L502.04,43.56 L502.58,43.72 L503.13,43.98 L503.69,44.31 L504.25,44.69 L504.83,45.11 L505.41,45.55 L506.00,46.00 L506.60,46.50 L507.23,47.10 L507.86,47.76 L508.50,48.43 L509.14,49.09 L509.77,49.70 L510.40,50.21 L511.00,50.60 L511.59,50.86 L512.16,51.02 L512.73,51.10 L513.29,51.13 L513.85,51.11 L514.40,51.07 L514.95,51.03 L515.50,51.00 L516.04,50.91 L516.58,50.72 L517.11,50.47 L517.63,50.23 L518.16,50.05 L518.69,49.98 L519.24,50.08 L519.80,50.40 L520.38,51.00 L520.96,51.83 L521.56,52.84 L522.17,53.96 L522.78,55.13 L523.39,56.28 L524.00,57.36 L524.60,58.30 L525.20,59.14 L525.80,59.95 L526.41,60.73 L527.01,61.47 L527.61,62.17 L528.21,62.83 L528.81,63.44 L529.40,64.00 L529.94,64.50 L530.41,64.95 L530.86,65.34 L531.31,65.69 L531.82,66.01 L532.40,66.29 L533.12,66.56 L534.00,66.80 L535.04,67.02 L536.21,67.20 L537.48,67.35 L538.85,67.47 L540.30,67.58 L541.82,67.66 L543.39,67.74 L545.00,67.80 L546.68,67.85 L548.47,67.89 L550.33,67.91 L552.25,67.91 L554.20,67.90 L556.16,67.88 L558.10,67.85 L560.00,67.80 L561.88,67.76 L563.75,67.73 L565.62,67.70 L567.50,67.65 L569.38,67.57 L571.25,67.44 L573.12,67.26 L575.00,67.00 L576.84,66.66 L578.63,66.26 L580.41,65.80 L582.19,65.29 L584.01,64.75 L585.90,64.18 L587.89,63.59 L590.00,63.00 L592.26,62.38 L594.63,61.73 L597.10,61.04 L599.64,60.33 L602.23,59.61 L604.83,58.90 L607.43,58.19 L610.00,57.50 L612.61,56.79 L615.33,56.02 L618.09,55.23 L620.85,54.46 L623.54,53.73 L626.12,53.09 L628.52,52.57 L630.70,52.20 L632.69,51.98 L634.58,51.87 L636.34,51.87 L637.96,51.96 L639.42,52.12 L640.71,52.36 L641.81,52.66 L642.70,53.00 L643.32,53.42 L643.67,53.93 L643.80,54.52 L643.78,55.17 L643.64,55.87 L643.46,56.58 L643.30,57.30 L643.20,58.00 L643.16,58.72 L643.11,59.48 L643.04,60.27 L642.94,61.07 L642.80,61.87 L642.61,62.63 L642.34,63.35 L642.00,64.00 L641.56,64.60 L641.04,65.17 L640.45,65.71 L639.80,66.21 L639.12,66.68 L638.41,67.10 L637.70,67.47 L637.00,67.80 L636.47,68.03 L636.16,68.16 L635.92,68.22 L635.62,68.25 L635.12,68.28 L634.28,68.36 L632.95,68.52 L631.00,68.80 L628.21,69.21 L624.61,69.71 L620.46,70.29 L616.00,70.92 L611.48,71.57 L607.14,72.21 L603.23,72.83 L600.00,73.40 L597.40,73.90 L595.16,74.36 L593.24,74.80 L591.56,75.23 L590.06,75.67 L588.68,76.15 L587.35,76.69 L586.00,77.30 L584.70,77.99 L583.53,78.73 L582.47,79.52 L581.50,80.35 L580.59,81.21 L579.72,82.10 L578.86,82.99 L578.00,83.90 L577.15,84.82 L576.34,85.78 L575.56,86.75 L574.81,87.75 L574.09,88.76 L573.38,89.77 L572.69,90.79 L572.00,91.80 L571.32,92.83 L570.67,93.89 L570.03,94.97 L569.40,96.04 L568.79,97.10 L568.18,98.13 L567.59,99.10 L567.00,100.00 L566.42,100.90 L565.86,101.85 L565.31,102.78 L564.78,103.66 L564.24,104.43 L563.70,105.05 L563.16,105.45 L562.60,105.60 L562.02,105.47 L561.43,105.09 L560.82,104.51 L560.21,103.77 L559.62,102.91 L559.04,101.97 L558.50,100.99 L558.00,100.00 L557.55,98.97 L557.14,97.83 L556.76,96.62 L556.40,95.34 L556.05,94.02 L555.71,92.67 L555.36,91.33 L555.00,90.00 L554.63,88.63 L554.27,87.18 L553.92,85.68 L553.56,84.17 L553.20,82.71 L552.82,81.34 L552.42,80.09 L552.00,79.00 L551.58,78.07 L551.16,77.27 L550.75,76.56 L550.31,75.95 L549.84,75.42 L549.30,74.96 L548.70,74.56 L548.00,74.20 L547.22,73.91 L546.38,73.72 L545.47,73.60 L544.50,73.54 L543.47,73.53 L542.38,73.55 L541.22,73.57 L540.00,73.60 L538.65,73.64 L537.14,73.72 L535.53,73.84 L533.88,73.97 L532.24,74.11 L530.67,74.25 L529.24,74.39 L528.00,74.50 L526.96,74.60 L526.08,74.69 L525.31,74.77 L524.62,74.86 L523.99,74.94 L523.36,75.02 L522.71,75.11 L522.00,75.20 L521.24,75.29 L520.46,75.36 L519.68,75.43 L518.91,75.51 L518.14,75.59 L517.39,75.70 L516.68,75.83 L516.00,76.00 L515.38,76.18 L514.80,76.37 L514.26,76.56 L513.74,76.79 L513.22,77.05 L512.69,77.36 L512.12,77.74 L511.50,78.20 L510.81,78.76 L510.06,79.43 L509.27,80.17 L508.46,80.96 L507.67,81.76 L506.91,82.56 L506.21,83.31 L505.60,84.00 L505.08,84.64 L504.64,85.26 L504.25,85.86 L503.90,86.44 L503.57,86.99 L503.24,87.52 L502.89,88.03 L502.50,88.50 L502.09,88.96 L501.66,89.43 L501.24,89.88 L500.81,90.29 L500.37,90.66 L499.92,90.96 L499.46,91.18 L499.00,91.30 L498.53,91.30 L498.05,91.17 L497.57,90.96 L497.07,90.69 L496.57,90.38 L496.06,90.06 L495.54,89.76 L495.00,89.50 L494.45,89.24 L493.90,88.92 L493.34,88.59 L492.76,88.26 L492.17,87.98 L491.57,87.77 L490.94,87.67 L490.30,87.70 L489.61,87.89 L488.88,88.20 L488.11,88.62 L487.34,89.11 L486.57,89.65 L485.83,90.22 L485.13,90.77 L484.50,91.30 L483.93,91.81 L483.39,92.35 L482.90,92.90 L482.43,93.46 L481.99,94.02 L481.58,94.59 L481.18,95.15 L480.80,95.70 L480.44,96.23 L480.12,96.75 L479.82,97.25 L479.54,97.76 L479.27,98.28 L479.01,98.82 L478.76,99.39 L478.50,100.00 L478.23,100.69 L477.95,101.48 L477.67,102.32 L477.41,103.17 L477.16,103.98 L476.93,104.72 L476.74,105.34 L476.60,105.80" fill="none" stroke="#d0181c" stroke-width="1.45" stroke-linejoin="round" stroke-linecap="round" />
<path d="M476.70,116.10 L476.84,115.32 L477.02,114.27 L477.24,113.02 L477.48,111.64 L477.74,110.18 L478.00,108.71 L478.26,107.30 L478.50,106.00 L478.73,104.80 L478.95,103.63 L479.17,102.48 L479.40,101.33 L479.63,100.18 L479.87,99.02 L480.13,97.83 L480.40,96.60 L480.69,95.32 L481.01,93.99 L481.34,92.62 L481.67,91.24 L482.02,89.87 L482.35,88.53 L482.68,87.23 L483.00,86.00 L483.30,84.85 L483.59,83.76 L483.87,82.72 L484.14,81.71 L484.42,80.71 L484.70,79.68 L485.00,78.62 L485.30,77.50 L485.62,76.30 L485.95,75.04 L486.29,73.73 L486.63,72.41 L486.98,71.10 L487.32,69.82 L487.66,68.62 L488.00,67.50 L488.32,66.50 L488.64,65.59 L488.95,64.74 L489.26,63.94 L489.57,63.14 L489.90,62.32 L490.24,61.45 L490.60,60.50 L490.99,59.45 L491.39,58.31 L491.81,57.12 L492.24,55.91 L492.68,54.71 L493.12,53.55 L493.56,52.47 L494.00,51.50 L494.43,50.63 L494.87,49.83 L495.31,49.10 L495.76,48.41 L496.20,47.77 L496.64,47.16 L497.07,46.57 L497.50,46.00 L497.91,45.46 L498.30,44.97 L498.67,44.51 L499.05,44.08 L499.44,43.67 L499.85,43.26 L500.30,42.84 L500.80,42.40 L501.33,41.92 L501.89,41.41 L502.47,40.88 L503.08,40.36 L503.73,39.86 L504.41,39.43 L505.13,39.06 L505.90,38.80 L506.74,38.66 L507.65,38.65 L508.62,38.71 L509.61,38.82 L510.62,38.96 L511.62,39.07 L512.59,39.13 L513.50,39.10 L514.37,38.99 L515.21,38.85 L516.03,38.66 L516.83,38.45 L517.63,38.22 L518.41,37.98 L519.20,37.74 L520.00,37.50 L520.81,37.23 L521.64,36.90 L522.48,36.55 L523.31,36.20 L524.11,35.88 L524.89,35.62 L525.62,35.45 L526.30,35.40 L526.90,35.42 L527.42,35.48 L527.90,35.58 L528.34,35.77 L528.78,36.06 L529.24,36.48 L529.74,37.05 L530.30,37.80 L530.93,38.78 L531.61,39.98 L532.32,41.36 L533.05,42.86 L533.79,44.42 L534.52,46.00 L535.23,47.54 L535.90,49.00 L536.53,50.43 L537.12,51.93 L537.69,53.44 L538.26,54.94 L538.83,56.40 L539.41,57.76 L540.03,59.01 L540.70,60.10 L541.37,61.03 L542.01,61.85 L542.66,62.55 L543.34,63.17 L544.08,63.71 L544.92,64.18 L545.88,64.61 L547.00,65.00 L548.29,65.34 L549.74,65.60 L551.32,65.80 L552.99,65.95 L554.72,66.05 L556.49,66.12 L558.26,66.17 L560.00,66.20 L561.80,66.22 L563.71,66.22 L565.68,66.19 L567.66,66.13 L569.58,66.04 L571.40,65.90 L573.06,65.72 L574.50,65.50 L575.69,65.23 L576.69,64.92 L577.52,64.57 L578.24,64.17 L578.91,63.74 L579.56,63.27 L580.24,62.75 L581.00,62.20 L581.79,61.60 L582.54,60.96 L583.27,60.27 L584.01,59.55 L584.78,58.79 L585.62,57.99 L586.55,57.16 L587.60,56.30 L588.77,55.36 L590.04,54.33 L591.40,53.24 L592.82,52.13 L594.29,51.03 L595.79,49.99 L597.30,49.03 L598.80,48.20 L600.33,47.50 L601.90,46.91 L603.52,46.40 L605.15,45.94 L606.78,45.52 L608.40,45.10 L609.97,44.67 L611.50,44.20 L613.00,43.67 L614.52,43.11 L616.02,42.52 L617.49,41.95 L618.92,41.41 L620.27,40.92 L621.54,40.51 L622.70,40.20 L623.68,40.01 L624.47,39.91 L625.14,39.89 L625.75,39.93 L626.38,40.00 L627.11,40.09 L627.99,40.16 L629.10,40.20 L630.54,40.19 L632.30,40.13 L634.24,40.06 L636.26,40.01 L638.23,39.99 L640.04,40.05 L641.57,40.21 L642.70,40.50 L643.41,40.91 L643.81,41.43 L643.96,42.03 L643.93,42.71 L643.78,43.45 L643.60,44.26 L643.45,45.11 L643.40,46.00 L643.41,46.98 L643.40,48.07 L643.38,49.25 L643.34,50.47 L643.28,51.69 L643.20,52.88 L643.11,53.99 L643.00,55.00 L642.89,55.89 L642.77,56.70 L642.65,57.45 L642.51,58.16 L642.33,58.85 L642.11,59.54 L641.84,60.25 L641.50,61.00 L641.09,61.82 L640.62,62.68 L640.10,63.57 L639.53,64.46 L638.93,65.33 L638.30,66.14 L637.65,66.87 L637.00,67.50 L636.41,68.01 L635.90,68.42 L635.40,68.76 L634.87,69.04 L634.22,69.30 L633.41,69.54 L632.35,69.80 L631.00,70.10 L629.26,70.43 L627.15,70.76 L624.78,71.10 L622.25,71.44 L619.66,71.77 L617.12,72.09 L614.74,72.40 L612.60,72.70 L610.70,72.96 L608.93,73.18 L607.26,73.38 L605.67,73.58 L604.11,73.79 L602.57,74.03 L601.01,74.33 L599.40,74.70 L597.71,75.13 L595.97,75.61 L594.19,76.12 L592.44,76.67 L590.73,77.27 L589.12,77.91 L587.63,78.58 L586.30,79.30 L585.15,80.07 L584.16,80.90 L583.29,81.78 L582.51,82.69 L581.79,83.63 L581.10,84.59 L580.41,85.55 L579.70,86.50 L578.98,87.43 L578.29,88.34 L577.62,89.25 L576.97,90.18 L576.34,91.14 L575.72,92.15 L575.11,93.23 L574.50,94.40 L573.90,95.68 L573.32,97.08 L572.75,98.55 L572.19,100.07 L571.64,101.60 L571.09,103.13 L570.55,104.60 L570.00,106.00 L569.46,107.34 L568.93,108.65 L568.41,109.93 L567.89,111.19 L567.37,112.43 L566.83,113.64 L566.28,114.83 L565.70,116.00 L565.08,117.18 L564.40,118.39 L563.70,119.59 L562.99,120.76 L562.30,121.87 L561.64,122.88 L561.03,123.77 L560.50,124.50 L560.05,125.08 L559.67,125.54 L559.35,125.89 L559.06,126.14 L558.78,126.29 L558.51,126.37 L558.22,126.36 L557.90,126.30 L557.55,126.20 L557.20,126.05 L556.84,125.85 L556.48,125.56 L556.12,125.15 L555.75,124.61 L555.37,123.90 L555.00,123.00 L554.62,121.88 L554.23,120.55 L553.84,119.04 L553.45,117.40 L553.06,115.67 L552.67,113.88 L552.28,112.08 L551.90,110.30 L551.53,108.48 L551.15,106.56 L550.78,104.56 L550.41,102.54 L550.05,100.54 L549.69,98.58 L549.34,96.72 L549.00,95.00 L548.68,93.39 L548.37,91.83 L548.08,90.34 L547.79,88.92 L547.49,87.57 L547.19,86.30 L546.86,85.11 L546.50,84.00 L546.14,82.98 L545.80,82.04 L545.46,81.18 L545.09,80.40 L544.69,79.69 L544.21,79.06 L543.66,78.50 L543.00,78.00 L542.23,77.60 L541.36,77.30 L540.42,77.08 L539.41,76.93 L538.34,76.83 L537.25,76.75 L536.13,76.68 L535.00,76.60 L533.82,76.52 L532.55,76.46 L531.23,76.43 L529.89,76.42 L528.56,76.42 L527.28,76.44 L526.08,76.47 L525.00,76.50 L524.04,76.54 L523.17,76.58 L522.38,76.63 L521.64,76.70 L520.93,76.79 L520.23,76.89 L519.53,77.03 L518.80,77.20 L518.04,77.39 L517.28,77.60 L516.52,77.83 L515.76,78.08 L515.03,78.37 L514.31,78.70 L513.64,79.07 L513.00,79.50 L512.41,79.98 L511.86,80.52 L511.34,81.10 L510.85,81.72 L510.38,82.37 L509.92,83.06 L509.46,83.77 L509.00,84.50 L508.55,85.24 L508.14,86.01 L507.73,86.79 L507.34,87.61 L506.94,88.46 L506.52,89.35 L506.08,90.30 L505.60,91.30 L505.07,92.40 L504.51,93.60 L503.91,94.87 L503.31,96.18 L502.70,97.48 L502.10,98.75 L501.53,99.93 L501.00,101.00 L500.51,101.99 L500.05,102.95 L499.61,103.87 L499.18,104.72 L498.76,105.51 L498.35,106.21 L497.93,106.81 L497.50,107.30 L497.07,107.66 L496.64,107.90 L496.21,108.04 L495.78,108.09 L495.35,108.07 L494.91,108.01 L494.46,107.91 L494.00,107.80 L493.52,107.64 L493.04,107.39 L492.54,107.09 L492.04,106.74 L491.53,106.39 L491.02,106.05 L490.51,105.74 L490.00,105.50 L489.49,105.29 L488.98,105.08 L488.46,104.88 L487.94,104.70 L487.43,104.56 L486.91,104.47 L486.40,104.45 L485.90,104.50 L485.40,104.63 L484.89,104.83 L484.38,105.09 L483.88,105.41 L483.39,105.76 L482.91,106.15 L482.44,106.57 L482.00,107.00 L481.58,107.47 L481.17,107.98 L480.78,108.54 L480.40,109.12 L480.03,109.72 L479.68,110.32 L479.34,110.92 L479.00,111.50 L478.66,112.10 L478.32,112.75 L477.99,113.42 L477.66,114.08 L477.36,114.71 L477.10,115.27 L476.87,115.74 L476.70,116.10" fill="none" stroke="#8b1214" stroke-width="1.7" stroke-linejoin="round" stroke-linecap="round" />
<line x1="581.9" y1="89.0" x2="596.1" y2="89.0" stroke="#f8c4c4" stroke-width="1.35"/>
<text x="619.5" y="91.8" font-size="8.5" text-anchor="middle" fill="#111" >25 mV s<tspan font-size="6" dy="-3.5">-1</tspan></text>
<line x1="581.9" y1="101.4" x2="596.1" y2="101.4" stroke="#f59595" stroke-width="1.45"/>
<text x="619.5" y="104.2" font-size="8.5" text-anchor="middle" fill="#111" >50 mV s<tspan font-size="6" dy="-3.5">-1</tspan></text>
<line x1="581.9" y1="113.8" x2="596.1" y2="113.8" stroke="#ee4a4a" stroke-width="1.6"/>
<text x="619.5" y="116.6" font-size="8.5" text-anchor="middle" fill="#111" >100 mV s<tspan font-size="6" dy="-3.5">-1</tspan></text>
<line x1="581.9" y1="126.2" x2="596.1" y2="126.2" stroke="#d0181c" stroke-width="1.75"/>
<text x="619.5" y="129.0" font-size="8.5" text-anchor="middle" fill="#111" >200 mV s<tspan font-size="6" dy="-3.5">-1</tspan></text>
<line x1="581.9" y1="138.6" x2="596.1" y2="138.6" stroke="#8b1214" stroke-width="2.0"/>
<text x="619.5" y="141.4" font-size="8.5" text-anchor="middle" fill="#111" >400 mV s<tspan font-size="6" dy="-3.5">-1</tspan></text>
<text x="647.5" y="16.6" font-size="9" text-anchor="end" fill="#111" >β-PdHene</text>
<text x="502" y="23.6" font-size="7.8" text-anchor="start" fill="#111" >Hydrogen desorption peak</text>
<path d="M539.4,25.9 L530,34" stroke="#111" stroke-width="0.8"/>
<path d="M528.6,35.3 L530.3,31.3 L532.4,33.7 Z" fill="#111"/>
<text x="1" y="199.6" font-size="20" text-anchor="start" fill="#111" >d</text>
<rect x="35.2" y="198.2" width="179.20" height="141.20" fill="none" stroke="#4a4a4a" stroke-width="1.3"/>
<line x1="35.20" y1="339.4" x2="35.20" y2="341.9" stroke="#4a4a4a" stroke-width="1"/>
<text x="35.20" y="351.6" font-size="10" text-anchor="middle" fill="#111">0</text>
<line x1="77.25" y1="339.4" x2="77.25" y2="341.9" stroke="#4a4a4a" stroke-width="1"/>
<text x="77.25" y="351.6" font-size="10" text-anchor="middle" fill="#111">100</text>
<line x1="119.30" y1="339.4" x2="119.30" y2="341.9" stroke="#4a4a4a" stroke-width="1"/>
<text x="119.30" y="351.6" font-size="10" text-anchor="middle" fill="#111">200</text>
<line x1="161.35" y1="339.4" x2="161.35" y2="341.9" stroke="#4a4a4a" stroke-width="1"/>
<text x="161.35" y="351.6" font-size="10" text-anchor="middle" fill="#111">300</text>
<line x1="203.40" y1="339.4" x2="203.40" y2="341.9" stroke="#4a4a4a" stroke-width="1"/>
<text x="203.40" y="351.6" font-size="10" text-anchor="middle" fill="#111">400</text>
<line x1="32.7" y1="198.50" x2="35.2" y2="198.50" stroke="#4a4a4a" stroke-width="1"/>
<text x="30.3" y="202.10" font-size="10" text-anchor="end" fill="#111">0.2</text>
<line x1="32.7" y1="254.00" x2="35.2" y2="254.00" stroke="#4a4a4a" stroke-width="1"/>
<text x="30.3" y="257.60" font-size="10" text-anchor="end" fill="#111">0.3</text>
<line x1="32.7" y1="309.50" x2="35.2" y2="309.50" stroke="#4a4a4a" stroke-width="1"/>
<text x="30.3" y="313.10" font-size="10" text-anchor="end" fill="#111">0.4</text>
<text transform="translate(10.3,276.2) rotate(-90)" font-size="12.9" text-anchor="middle" fill="#111">Peak Position (V vs. RHE)</text>
<text x="125" y="366.3" font-size="13" text-anchor="middle" fill="#111">Scan Rate (mV s<tspan font-size="8.5" dy="-4.5">-1</tspan><tspan dy="4.5">)</tspan></text>
<line x1="45.7" y1="236" x2="203.4" y2="305" stroke="#f0c25a" stroke-width="1.3"/>
<line x1="45.7" y1="232.5" x2="203.4" y2="290.7" stroke="#45ac68" stroke-width="1.3"/>
<line x1="45.7" y1="230" x2="203.4" y2="285.1" stroke="#25a7ef" stroke-width="1.3"/>
<line x1="45.7" y1="231" x2="203.4" y2="279.5" stroke="#f04f52" stroke-width="1.3"/>
<circle cx="45.70" cy="229.50" r="2.2" fill="url(#gr)"/>
<circle cx="56.20" cy="233.50" r="2.2" fill="url(#gr)"/>
<circle cx="77.20" cy="242.50" r="2.2" fill="url(#gr)"/>
<circle cx="119.30" cy="251.00" r="2.2" fill="url(#gr)"/>
<circle cx="203.40" cy="279.50" r="2.2" fill="url(#gr)"/>
<circle cx="45.70" cy="230.80" r="2.2" fill="url(#gg)"/>
<circle cx="56.20" cy="237.40" r="2.2" fill="url(#gg)"/>
<circle cx="77.20" cy="248.00" r="2.2" fill="url(#gg)"/>
<circle cx="119.30" cy="266.90" r="2.2" fill="url(#gg)"/>
<circle cx="203.40" cy="288.30" r="2.2" fill="url(#gg)"/>
<circle cx="45.70" cy="232.60" r="2.2" fill="url(#gy)"/>
<circle cx="56.20" cy="240.00" r="2.2" fill="url(#gy)"/>
<circle cx="77.20" cy="254.50" r="2.2" fill="url(#gy)"/>
<circle cx="119.30" cy="274.90" r="2.2" fill="url(#gy)"/>
<circle cx="203.40" cy="301.80" r="2.2" fill="url(#gy)"/>
<circle cx="45.70" cy="228.60" r="2.2" fill="url(#gb)"/>
<circle cx="56.20" cy="231.00" r="2.2" fill="url(#gb)"/>
<circle cx="77.20" cy="243.60" r="2.2" fill="url(#gb)"/>
<circle cx="119.30" cy="260.00" r="2.2" fill="url(#gb)"/>
<circle cx="203.40" cy="285.10" r="2.2" fill="url(#gb)"/>
<circle cx="42.60" cy="294.50" r="2.2" fill="url(#gr)"/>
<text x="51" y="297.5" font-size="9" text-anchor="start" fill="#111" >β-PdHene</text>
<circle cx="42.60" cy="306.40" r="2.2" fill="url(#gg)"/>
<text x="51" y="309.4" font-size="9" text-anchor="start" fill="#111" >Mixed-phase PdHene</text>
<circle cx="42.60" cy="318.30" r="2.2" fill="url(#gb)"/>
<text x="51" y="321.3" font-size="9" text-anchor="start" fill="#111" >α-PdHene</text>
<circle cx="42.60" cy="330.20" r="2.2" fill="url(#gy)"/>
<text x="51" y="333.2" font-size="9" text-anchor="start" fill="#111" >Pdene</text>
<text transform="translate(84.2,235.8) rotate(14.5)" font-size="7.8" font-style="italic" fill="#f04f52" text-anchor="start">2.27 x 10<tspan font-size="5.5" dy="-3.5">-4</tspan></text>
<text transform="translate(160.2,258.3) rotate(18.5)" font-size="7.8" font-style="italic" fill="#25a7ef" text-anchor="start">2.7 x 10<tspan font-size="5.5" dy="-3.5">-4</tspan></text>
<text transform="translate(168.2,287) rotate(21)" font-size="7.6" font-style="italic" fill="#45ac68" text-anchor="start">2.67 x 10<tspan font-size="5.5" dy="-3.5">-4</tspan></text>
<text transform="translate(127.6,286.2) rotate(23)" font-size="7.7" font-style="italic" fill="#f0c25a" text-anchor="start">3.21 x 10<tspan font-size="5.5" dy="-3.5">-4</tspan></text>
<text x="219.5" y="203.2" font-size="20" text-anchor="start" fill="#111" >e</text>
<rect x="251.4" y="198.2" width="179.50" height="141.20" fill="none" stroke="#4a4a4a" stroke-width="1.3"/>
<line x1="251.70" y1="339.4" x2="251.70" y2="341.9" stroke="#4a4a4a" stroke-width="1"/>
<text x="251.70" y="351.9" font-size="10" text-anchor="middle" fill="#111">-0.3</text>
<line x1="302.80" y1="339.4" x2="302.80" y2="341.9" stroke="#4a4a4a" stroke-width="1"/>
<text x="302.80" y="351.9" font-size="10" text-anchor="middle" fill="#111">-0.2</text>
<line x1="353.90" y1="339.4" x2="353.90" y2="341.9" stroke="#4a4a4a" stroke-width="1"/>
<text x="353.90" y="351.9" font-size="10" text-anchor="middle" fill="#111">-0.1</text>
<line x1="405.00" y1="339.4" x2="405.00" y2="341.9" stroke="#4a4a4a" stroke-width="1"/>
<text x="405.00" y="351.9" font-size="10" text-anchor="middle" fill="#111">0.0</text>
<line x1="248.9" y1="219.50" x2="251.4" y2="219.50" stroke="#4a4a4a" stroke-width="1"/>
<text x="247.2" y="223.10" font-size="10" text-anchor="end" fill="#111">0</text>
<line x1="248.9" y1="263.00" x2="251.4" y2="263.00" stroke="#4a4a4a" stroke-width="1"/>
<text x="247.2" y="266.60" font-size="10" text-anchor="end" fill="#111">-40</text>
<line x1="248.9" y1="306.50" x2="251.4" y2="306.50" stroke="#4a4a4a" stroke-width="1"/>
<text x="247.2" y="310.10" font-size="10" text-anchor="end" fill="#111">-80</text>
<text transform="translate(227.3,267) rotate(-90)" font-size="13" text-anchor="middle" fill="#111">J (mA cm<tspan font-size="8.5" dy="-4.5">-2</tspan><tspan dy="4.5">)</tspan></text>
<text x="341.5" y="367.4" font-size="13" text-anchor="middle" fill="#111">E (V vs. RHE)</text>
<clipPath id="cpe"><rect x="251.4" y="198.2" width="179.5" height="141.2"/></clipPath>
<g clip-path="url(#cpe)">
<path d="M251.40,325.90 L251.96,325.46 L252.70,324.86 L253.58,324.16 L254.56,323.37 L255.60,322.55 L256.66,321.72 L257.71,320.93 L258.70,320.20 L259.66,319.53 L260.62,318.89 L261.60,318.27 L262.59,317.64 L263.58,317.02 L264.58,316.37 L265.59,315.70 L266.60,315.00 L267.62,314.26 L268.64,313.50 L269.67,312.71 L270.70,311.91 L271.74,311.09 L272.79,310.26 L273.84,309.43 L274.90,308.60 L275.97,307.76 L277.07,306.89 L278.17,306.02 L279.28,305.14 L280.38,304.26 L281.47,303.39 L282.55,302.53 L283.60,301.70 L284.62,300.89 L285.61,300.11 L286.59,299.34 L287.55,298.57 L288.51,297.82 L289.49,297.05 L290.48,296.28 L291.50,295.50 L292.55,294.70 L293.63,293.88 L294.72,293.06 L295.82,292.24 L296.93,291.41 L298.03,290.60 L299.13,289.79 L300.20,289.00 L301.26,288.23 L302.30,287.47 L303.34,286.72 L304.37,285.98 L305.41,285.24 L306.43,284.50 L307.47,283.76 L308.50,283.00 L309.54,282.24 L310.58,281.47 L311.63,280.69 L312.67,279.92 L313.71,279.14 L314.75,278.36 L315.78,277.58 L316.80,276.80 L317.81,276.01 L318.82,275.20 L319.82,274.39 L320.81,273.58 L321.81,272.77 L322.80,271.99 L323.80,271.23 L324.80,270.50 L325.81,269.81 L326.82,269.15 L327.83,268.52 L328.85,267.90 L329.87,267.30 L330.88,266.70 L331.89,266.10 L332.90,265.50 L333.91,264.90 L334.91,264.31 L335.92,263.72 L336.92,263.14 L337.93,262.56 L338.92,261.98 L339.92,261.39 L340.90,260.80 L341.87,260.21 L342.83,259.63 L343.79,259.05 L344.74,258.46 L345.69,257.87 L346.65,257.27 L347.62,256.64 L348.60,256.00 L349.60,255.33 L350.61,254.63 L351.64,253.91 L352.67,253.18 L353.70,252.44 L354.74,251.71 L355.77,250.99 L356.80,250.30 L357.82,249.63 L358.85,248.97 L359.88,248.33 L360.90,247.69 L361.93,247.06 L362.95,246.42 L363.98,245.77 L365.00,245.10 L366.02,244.42 L367.05,243.73 L368.07,243.02 L369.09,242.32 L370.12,241.61 L371.14,240.90 L372.17,240.20 L373.20,239.50 L374.23,238.81 L375.27,238.11 L376.31,237.42 L377.35,236.73 L378.39,236.04 L379.43,235.36 L380.47,234.68 L381.50,234.00 L382.53,233.31 L383.56,232.61 L384.58,231.90 L385.61,231.20 L386.63,230.52 L387.65,229.87 L388.68,229.26 L389.70,228.70 L390.73,228.20 L391.75,227.74 L392.78,227.31 L393.81,226.92 L394.83,226.56 L395.86,226.22 L396.88,225.90 L397.90,225.60 L398.92,225.32 L399.93,225.08 L400.94,224.86 L401.94,224.66 L402.95,224.48 L403.96,224.32 L404.98,224.16 L406.00,224.00 L407.03,223.85 L408.07,223.72 L409.11,223.61 L410.15,223.50 L411.19,223.40 L412.23,223.30 L413.27,223.20 L414.30,223.10 L415.32,222.99 L416.35,222.89 L417.37,222.78 L418.38,222.68 L419.39,222.57 L420.40,222.48 L421.40,222.38 L422.40,222.30 L423.44,222.22 L424.55,222.14 L425.69,222.07 L426.81,222.00 L427.86,221.94 L428.81,221.88 L429.60,221.84 L430.20,221.80" fill="none" stroke="#e83538" stroke-width="1.3" stroke-linejoin="round" stroke-linecap="round" />
<circle cx="251.4" cy="325.9" r="2.2" fill="url(#geh)" stroke="#e83538" stroke-width="0.5"/>
<circle cx="258.7" cy="320.2" r="2.2" fill="url(#geh)" stroke="#e83538" stroke-width="0.5"/>
<circle cx="266.6" cy="315" r="2.2" fill="url(#geh)" stroke="#e83538" stroke-width="0.5"/>
<circle cx="274.9" cy="308.6" r="2.2" fill="url(#geh)" stroke="#e83538" stroke-width="0.5"/>
<circle cx="283.6" cy="301.7" r="2.2" fill="url(#geh)" stroke="#e83538" stroke-width="0.5"/>
<circle cx="291.5" cy="295.5" r="2.2" fill="url(#geh)" stroke="#e83538" stroke-width="0.5"/>
<circle cx="300.2" cy="289" r="2.2" fill="url(#geh)" stroke="#e83538" stroke-width="0.5"/>
<circle cx="308.5" cy="283" r="2.2" fill="url(#geh)" stroke="#e83538" stroke-width="0.5"/>
<circle cx="316.8" cy="276.8" r="2.2" fill="url(#geh)" stroke="#e83538" stroke-width="0.5"/>
<circle cx="324.8" cy="270.5" r="2.2" fill="url(#geh)" stroke="#e83538" stroke-width="0.5"/>
<circle cx="332.9" cy="265.5" r="2.2" fill="url(#geh)" stroke="#e83538" stroke-width="0.5"/>
<circle cx="340.9" cy="260.8" r="2.2" fill="url(#geh)" stroke="#e83538" stroke-width="0.5"/>
<circle cx="348.6" cy="256" r="2.2" fill="url(#geh)" stroke="#e83538" stroke-width="0.5"/>
<circle cx="356.8" cy="250.3" r="2.2" fill="url(#geh)" stroke="#e83538" stroke-width="0.5"/>
<circle cx="365" cy="245.1" r="2.2" fill="url(#geh)" stroke="#e83538" stroke-width="0.5"/>
<circle cx="373.2" cy="239.5" r="2.2" fill="url(#geh)" stroke="#e83538" stroke-width="0.5"/>
<circle cx="381.5" cy="234" r="2.2" fill="url(#geh)" stroke="#e83538" stroke-width="0.5"/>
<circle cx="389.7" cy="228.7" r="2.2" fill="url(#geh)" stroke="#e83538" stroke-width="0.5"/>
<circle cx="397.9" cy="225.6" r="2.2" fill="url(#geh)" stroke="#e83538" stroke-width="0.5"/>
<circle cx="406" cy="224" r="2.2" fill="url(#geh)" stroke="#e83538" stroke-width="0.5"/>
<circle cx="414.3" cy="223.1" r="2.2" fill="url(#geh)" stroke="#e83538" stroke-width="0.5"/>
<circle cx="422.4" cy="222.3" r="2.2" fill="url(#geh)" stroke="#e83538" stroke-width="0.5"/>
<circle cx="430.2" cy="221.8" r="2.2" fill="url(#geh)" stroke="#e83538" stroke-width="0.5"/>
<path d="M251.40,291.30 L251.96,290.92 L252.70,290.42 L253.58,289.82 L254.56,289.15 L255.60,288.45 L256.66,287.76 L257.71,287.09 L258.70,286.50 L259.66,285.96 L260.62,285.45 L261.60,284.95 L262.59,284.47 L263.58,283.99 L264.58,283.50 L265.59,283.01 L266.60,282.50 L267.62,281.98 L268.64,281.46 L269.67,280.94 L270.70,280.41 L271.74,279.87 L272.79,279.32 L273.84,278.77 L274.90,278.20 L275.97,277.61 L277.07,277.00 L278.17,276.37 L279.28,275.74 L280.38,275.11 L281.47,274.48 L282.55,273.88 L283.60,273.30 L284.62,272.75 L285.61,272.22 L286.59,271.71 L287.55,271.21 L288.51,270.71 L289.49,270.21 L290.48,269.71 L291.50,269.20 L292.55,268.68 L293.63,268.15 L294.72,267.62 L295.82,267.09 L296.93,266.56 L298.03,266.04 L299.13,265.52 L300.20,265.00 L301.26,264.49 L302.30,263.98 L303.34,263.47 L304.37,262.97 L305.41,262.47 L306.43,261.97 L307.47,261.48 L308.50,261.00 L309.54,260.53 L310.58,260.06 L311.63,259.60 L312.67,259.15 L313.71,258.70 L314.75,258.24 L315.78,257.77 L316.80,257.30 L317.81,256.81 L318.82,256.32 L319.82,255.82 L320.81,255.32 L321.81,254.81 L322.80,254.31 L323.80,253.80 L324.80,253.30 L325.81,252.80 L326.82,252.29 L327.83,251.79 L328.85,251.28 L329.87,250.78 L330.88,250.28 L331.89,249.79 L332.90,249.30 L333.91,248.82 L334.91,248.36 L335.92,247.89 L336.92,247.44 L337.93,246.98 L338.92,246.53 L339.92,246.07 L340.90,245.60 L341.87,245.13 L342.83,244.65 L343.79,244.17 L344.74,243.69 L345.69,243.21 L346.65,242.73 L347.62,242.26 L348.60,241.80 L349.60,241.35 L350.61,240.89 L351.64,240.45 L352.67,240.01 L353.70,239.57 L354.74,239.14 L355.77,238.72 L356.80,238.30 L357.82,237.90 L358.85,237.50 L359.88,237.12 L360.90,236.74 L361.93,236.37 L362.95,235.99 L363.98,235.60 L365.00,235.20 L366.02,234.79 L367.05,234.37 L368.07,233.94 L369.09,233.51 L370.12,233.08 L371.14,232.65 L372.17,232.22 L373.20,231.80 L374.23,231.38 L375.27,230.95 L376.31,230.52 L377.35,230.09 L378.39,229.67 L379.43,229.26 L380.47,228.87 L381.50,228.50 L382.53,228.15 L383.56,227.80 L384.58,227.47 L385.61,227.16 L386.63,226.86 L387.65,226.58 L388.68,226.33 L389.70,226.10 L390.73,225.91 L391.75,225.75 L392.78,225.63 L393.81,225.52 L394.83,225.42 L395.86,225.32 L396.88,225.22 L397.90,225.10 L398.92,224.97 L399.93,224.83 L400.94,224.69 L401.94,224.54 L402.95,224.40 L403.96,224.26 L404.98,224.13 L406.00,224.00 L407.03,223.88 L408.07,223.76 L409.11,223.64 L410.15,223.53 L411.19,223.42 L412.23,223.31 L413.27,223.21 L414.30,223.10 L415.32,222.99 L416.35,222.89 L417.37,222.78 L418.38,222.68 L419.39,222.57 L420.40,222.48 L421.40,222.38 L422.40,222.30 L423.44,222.22 L424.55,222.14 L425.69,222.07 L426.81,222.00 L427.86,221.94 L428.81,221.88 L429.60,221.84 L430.20,221.80" fill="none" stroke="#f37c7e" stroke-width="1.2" stroke-linejoin="round" stroke-linecap="round" />
<circle cx="251.4" cy="291.3" r="2.15" fill="url(#ged)" stroke="#f37c7e" stroke-width="0.5"/>
<circle cx="258.7" cy="286.5" r="2.15" fill="url(#ged)" stroke="#f37c7e" stroke-width="0.5"/>
<circle cx="266.6" cy="282.5" r="2.15" fill="url(#ged)" stroke="#f37c7e" stroke-width="0.5"/>
<circle cx="274.9" cy="278.2" r="2.15" fill="url(#ged)" stroke="#f37c7e" stroke-width="0.5"/>
<circle cx="283.6" cy="273.3" r="2.15" fill="url(#ged)" stroke="#f37c7e" stroke-width="0.5"/>
<circle cx="291.5" cy="269.2" r="2.15" fill="url(#ged)" stroke="#f37c7e" stroke-width="0.5"/>
<circle cx="300.2" cy="265" r="2.15" fill="url(#ged)" stroke="#f37c7e" stroke-width="0.5"/>
<circle cx="308.5" cy="261" r="2.15" fill="url(#ged)" stroke="#f37c7e" stroke-width="0.5"/>
<circle cx="316.8" cy="257.3" r="2.15" fill="url(#ged)" stroke="#f37c7e" stroke-width="0.5"/>
<circle cx="324.8" cy="253.3" r="2.15" fill="url(#ged)" stroke="#f37c7e" stroke-width="0.5"/>
<circle cx="332.9" cy="249.3" r="2.15" fill="url(#ged)" stroke="#f37c7e" stroke-width="0.5"/>
<circle cx="340.9" cy="245.6" r="2.15" fill="url(#ged)" stroke="#f37c7e" stroke-width="0.5"/>
<circle cx="348.6" cy="241.8" r="2.15" fill="url(#ged)" stroke="#f37c7e" stroke-width="0.5"/>
<circle cx="356.8" cy="238.3" r="2.15" fill="url(#ged)" stroke="#f37c7e" stroke-width="0.5"/>
<circle cx="365" cy="235.2" r="2.15" fill="url(#ged)" stroke="#f37c7e" stroke-width="0.5"/>
<circle cx="373.2" cy="231.8" r="2.15" fill="url(#ged)" stroke="#f37c7e" stroke-width="0.5"/>
<circle cx="381.5" cy="228.5" r="2.15" fill="url(#ged)" stroke="#f37c7e" stroke-width="0.5"/>
<circle cx="389.7" cy="226.1" r="2.15" fill="url(#ged)" stroke="#f37c7e" stroke-width="0.5"/>
<circle cx="397.9" cy="225.1" r="2.15" fill="url(#ged)" stroke="#f37c7e" stroke-width="0.5"/>
<circle cx="406" cy="224" r="2.15" fill="url(#ged)" stroke="#f37c7e" stroke-width="0.5"/>
<circle cx="414.3" cy="223.1" r="2.15" fill="url(#ged)" stroke="#f37c7e" stroke-width="0.5"/>
<circle cx="422.4" cy="222.3" r="2.15" fill="url(#ged)" stroke="#f37c7e" stroke-width="0.5"/>
<circle cx="430.2" cy="221.8" r="2.15" fill="url(#ged)" stroke="#f37c7e" stroke-width="0.5"/>
</g>
<line x1="255.9" y1="207.2" x2="270.4" y2="207.2" stroke="#e83538" stroke-width="1.3"/>
<circle cx="263.1" cy="207.2" r="2.3" fill="url(#geh)" stroke="#e83538" stroke-width="0.5"/>
<line x1="255.9" y1="219.3" x2="270.4" y2="219.3" stroke="#f37c7e" stroke-width="1.2"/>
<circle cx="263.1" cy="219.3" r="2.3" fill="url(#ged)" stroke="#f37c7e" stroke-width="0.5"/>
<text x="273.7" y="209.8" font-size="9" text-anchor="start" fill="#111" >0.5 M H<tspan font-size="6" dy="2">2</tspan><tspan dy="-2">SO</tspan><tspan font-size="6" dy="2">4</tspan><tspan dy="-2">/H</tspan><tspan font-size="6" dy="2">2</tspan><tspan dy="-2">O</tspan></text>
<text x="273.7" y="221.9" font-size="9" text-anchor="start" fill="#111" >0.5 M D<tspan font-size="6" dy="2">2</tspan><tspan dy="-2">SO</tspan><tspan font-size="6" dy="2">4</tspan><tspan dy="-2">/D</tspan><tspan font-size="6" dy="2">2</tspan><tspan dy="-2">O</tspan></text>
<text x="428.5" y="208.6" font-size="9" text-anchor="end" fill="#111" >β-PdHene</text>
<rect x="352" y="262.2" width="73.5" height="57.7" fill="#fff" stroke="#555" stroke-width="0.85"/>
<line x1="350.3" y1="262.2" x2="352" y2="262.2" stroke="#3a3a3a" stroke-width="0.8"/>
<text x="349.2" y="264.59999999999997" font-size="7" text-anchor="end" fill="#111" >3</text>
<line x1="350.3" y1="281.5" x2="352" y2="281.5" stroke="#3a3a3a" stroke-width="0.8"/>
<text x="349.2" y="283.9" font-size="7" text-anchor="end" fill="#111" >2</text>
<line x1="350.3" y1="300.7" x2="352" y2="300.7" stroke="#3a3a3a" stroke-width="0.8"/>
<text x="349.2" y="303.09999999999997" font-size="7" text-anchor="end" fill="#111" >1</text>
<line x1="350.3" y1="319.9" x2="352" y2="319.9" stroke="#3a3a3a" stroke-width="0.8"/>
<text x="349.2" y="322.29999999999995" font-size="7" text-anchor="end" fill="#111" >0</text>
<line x1="352" y1="319.9" x2="352" y2="321.6" stroke="#3a3a3a" stroke-width="0.8"/>
<text x="352" y="327.8" font-size="7" text-anchor="middle" fill="#111" >-0.3</text>
<line x1="388.7" y1="319.9" x2="388.7" y2="321.6" stroke="#3a3a3a" stroke-width="0.8"/>
<text x="388.7" y="327.8" font-size="7" text-anchor="middle" fill="#111" >-0.2</text>
<line x1="425.5" y1="319.9" x2="425.5" y2="321.6" stroke="#3a3a3a" stroke-width="0.8"/>
<text x="425.5" y="327.8" font-size="7" text-anchor="middle" fill="#111" >-0.1</text>
<text x="388.7" y="336.5" font-size="7.3" text-anchor="middle" fill="#111" >E (V vs. RHE)</text>
<text transform="translate(344.3,291) rotate(-90)" font-size="7.3" text-anchor="middle" fill="#111">KIE (<tspan font-style="italic">J</tspan><tspan font-size="5" dy="1.5">H</tspan><tspan font-size="4.5" dy="-4">+</tspan><tspan dy="2.5">/</tspan><tspan font-style="italic">J</tspan><tspan font-size="5" dy="1.5">D</tspan><tspan font-size="4.5" dy="-4">+</tspan><tspan dy="2.5">)</tspan></text>
<path d="M352.4,292 C375,290.8 400,289.8 425,289.4" stroke="#ee4448" stroke-width="1.1" fill="none"/>
<text x="371" y="285.5" font-size="7.3" text-anchor="start" fill="#ee4448" >KIE</text>
<text x="443" y="204.3" font-size="20" text-anchor="start" fill="#111" >f</text>
<rect x="474.2" y="276.9" width="17.90" height="61.50" fill="url(#bRd)" stroke="#5a5a5a" stroke-width="0.8"/>
<rect x="492.1" y="246.3" width="17.90" height="92.10" fill="url(#bRh)" stroke="#5a5a5a" stroke-width="0.8"/>
<rect x="518.9" y="286.1" width="17.90" height="52.30" fill="url(#bGd)" stroke="#5a5a5a" stroke-width="0.8"/>
<rect x="536.8" y="254.7" width="17.80" height="83.70" fill="url(#bGh)" stroke="#5a5a5a" stroke-width="0.8"/>
<rect x="563.4" y="305.5" width="18.10" height="32.90" fill="url(#bBd)" stroke="#5a5a5a" stroke-width="0.8"/>
<rect x="581.5" y="274.2" width="17.90" height="64.20" fill="url(#bBh)" stroke="#5a5a5a" stroke-width="0.8"/>
<rect x="608.5" y="307.3" width="18.00" height="31.10" fill="url(#bYd)" stroke="#5a5a5a" stroke-width="0.8"/>
<rect x="626.5" y="277.5" width="17.90" height="60.90" fill="url(#bYh)" stroke="#5a5a5a" stroke-width="0.8"/>
<rect x="469.5" y="197.4" width="179.10" height="141.00" fill="none" stroke="#4a4a4a" stroke-width="1.3"/>
<line x1="467.0" y1="338.40" x2="469.5" y2="338.40" stroke="#4a4a4a" stroke-width="1"/>
<text x="466" y="342.00" font-size="10" text-anchor="end" fill="#111">0</text>
<line x1="467.0" y1="300.80" x2="469.5" y2="300.80" stroke="#4a4a4a" stroke-width="1"/>
<text x="466" y="304.40" font-size="10" text-anchor="end" fill="#111">40</text>
<line x1="467.0" y1="263.20" x2="469.5" y2="263.20" stroke="#4a4a4a" stroke-width="1"/>
<text x="466" y="266.80" font-size="10" text-anchor="end" fill="#111">80</text>
<line x1="467.0" y1="225.60" x2="469.5" y2="225.60" stroke="#4a4a4a" stroke-width="1"/>
<text x="466" y="229.20" font-size="10" text-anchor="end" fill="#111">120</text>
<line x1="648.6" y1="338.40" x2="651.1" y2="338.40" stroke="#4a4a4a" stroke-width="1"/>
<text x="652.8" y="342.00" font-size="10" text-anchor="start" fill="#111">0.8</text>
<line x1="648.6" y1="305.20" x2="651.1" y2="305.20" stroke="#4a4a4a" stroke-width="1"/>
<text x="652.8" y="308.80" font-size="10" text-anchor="start" fill="#111">1.2</text>
<line x1="648.6" y1="272.00" x2="651.1" y2="272.00" stroke="#4a4a4a" stroke-width="1"/>
<text x="652.8" y="275.60" font-size="10" text-anchor="start" fill="#111">1.6</text>
<line x1="648.6" y1="238.80" x2="651.1" y2="238.80" stroke="#4a4a4a" stroke-width="1"/>
<text x="652.8" y="242.40" font-size="10" text-anchor="start" fill="#111">2.0</text>
<line x1="648.6" y1="205.60" x2="651.1" y2="205.60" stroke="#4a4a4a" stroke-width="1"/>
<text x="652.8" y="209.20" font-size="10" text-anchor="start" fill="#111">2.4</text>
<text transform="translate(448.5,267.4) rotate(-90)" font-size="13" text-anchor="middle" fill="#111">J (mA cm<tspan font-size="8.5" dy="-4.5">-2</tspan><tspan dy="4.5">)</tspan></text>
<text transform="translate(681.8,268.5) rotate(-90)" font-size="13.4" text-anchor="middle" fill="#111">KIEs (<tspan font-style="italic">J</tspan><tspan font-size="8" dy="2.5">H</tspan><tspan font-size="6" dy="1.5">2</tspan><tspan font-size="8" dy="-1.5">O</tspan><tspan dy="-2.5">/</tspan><tspan font-style="italic">J</tspan><tspan font-size="8" dy="2.5">D</tspan><tspan font-size="6" dy="1.5">2</tspan><tspan font-size="8" dy="-1.5">O</tspan><tspan dy="-2.5">)</tspan></text>
<path d="M482.30,280.00 L533.60,271.30 L584.80,243.50 L635.70,241.40" fill="none" stroke="#777" stroke-width="0.9" stroke-linejoin="round" stroke-linecap="round" />
<path d="M482.30,276.80 L483.23,279.03 L485.63,279.22 L483.80,280.79 L484.36,283.13 L482.30,281.88 L480.24,283.13 L480.80,280.79 L478.97,279.22 L481.37,279.03 Z" fill="#f04f52"/>
<path d="M533.60,268.10 L534.53,270.33 L536.93,270.52 L535.10,272.09 L535.66,274.43 L533.60,273.18 L531.54,274.43 L532.10,272.09 L530.27,270.52 L532.67,270.33 Z" fill="#45ac68"/>
<path d="M584.80,240.30 L585.73,242.53 L588.13,242.72 L586.30,244.29 L586.86,246.63 L584.80,245.38 L582.74,246.63 L583.30,244.29 L581.47,242.72 L583.87,242.53 Z" fill="#25a7ef"/>
<path d="M635.70,238.20 L636.63,240.43 L639.03,240.62 L637.20,242.19 L637.76,244.53 L635.70,243.28 L633.64,244.53 L634.20,242.19 L632.37,240.62 L634.77,240.43 Z" fill="#f0c25a"/>
<text x="494.7" y="242.5" font-size="9" text-anchor="middle" fill="#222" >1.50</text>
<text x="539.7" y="250.7" font-size="9" text-anchor="middle" fill="#222" >1.61</text>
<text x="584.7" y="271" font-size="9" text-anchor="middle" fill="#222" >1.94</text>
<text x="630.2" y="274" font-size="9" text-anchor="middle" fill="#222" >1.97</text>
<rect x="472.6" y="200.6" width="14" height="7" fill="url(#bRd)" stroke="#5a5a5a" stroke-width="0.8"/>
<rect x="472.6" y="213.9" width="14" height="7.2" fill="url(#bRh)" stroke="#5a5a5a" stroke-width="0.8"/>
<text x="490.1" y="207.8" font-size="9" text-anchor="start" fill="#111" >D<tspan font-size="6" dy="2">2</tspan><tspan dy="-2">SO</tspan><tspan font-size="6" dy="2">4</tspan><tspan dy="-2">/D</tspan><tspan font-size="6" dy="2">2</tspan><tspan dy="-2">O</tspan></text>
<text x="490.1" y="221.1" font-size="9" text-anchor="start" fill="#111" >H<tspan font-size="6" dy="2">2</tspan><tspan dy="-2">SO</tspan><tspan font-size="6" dy="2">4</tspan><tspan dy="-2">/H</tspan><tspan font-size="6" dy="2">2</tspan><tspan dy="-2">O</tspan></text>
<text x="646" y="208" font-size="9" text-anchor="end" fill="#111" >E = -0.3 V</text>
<text transform="translate(511,351.5) rotate(-21)" font-size="9" text-anchor="end" fill="#111">β-PdHene</text>
<text transform="translate(580.5,344.2) rotate(-21)" font-size="9" text-anchor="end" fill="#111">Mixed-phase PdHene</text>
<text transform="translate(600.5,353) rotate(-21)" font-size="9" text-anchor="end" fill="#111">α-PdHene</text>
<text transform="translate(639,354.3) rotate(-21)" font-size="9" text-anchor="end" fill="#111">Pdene</text>
</svg></body></html>
